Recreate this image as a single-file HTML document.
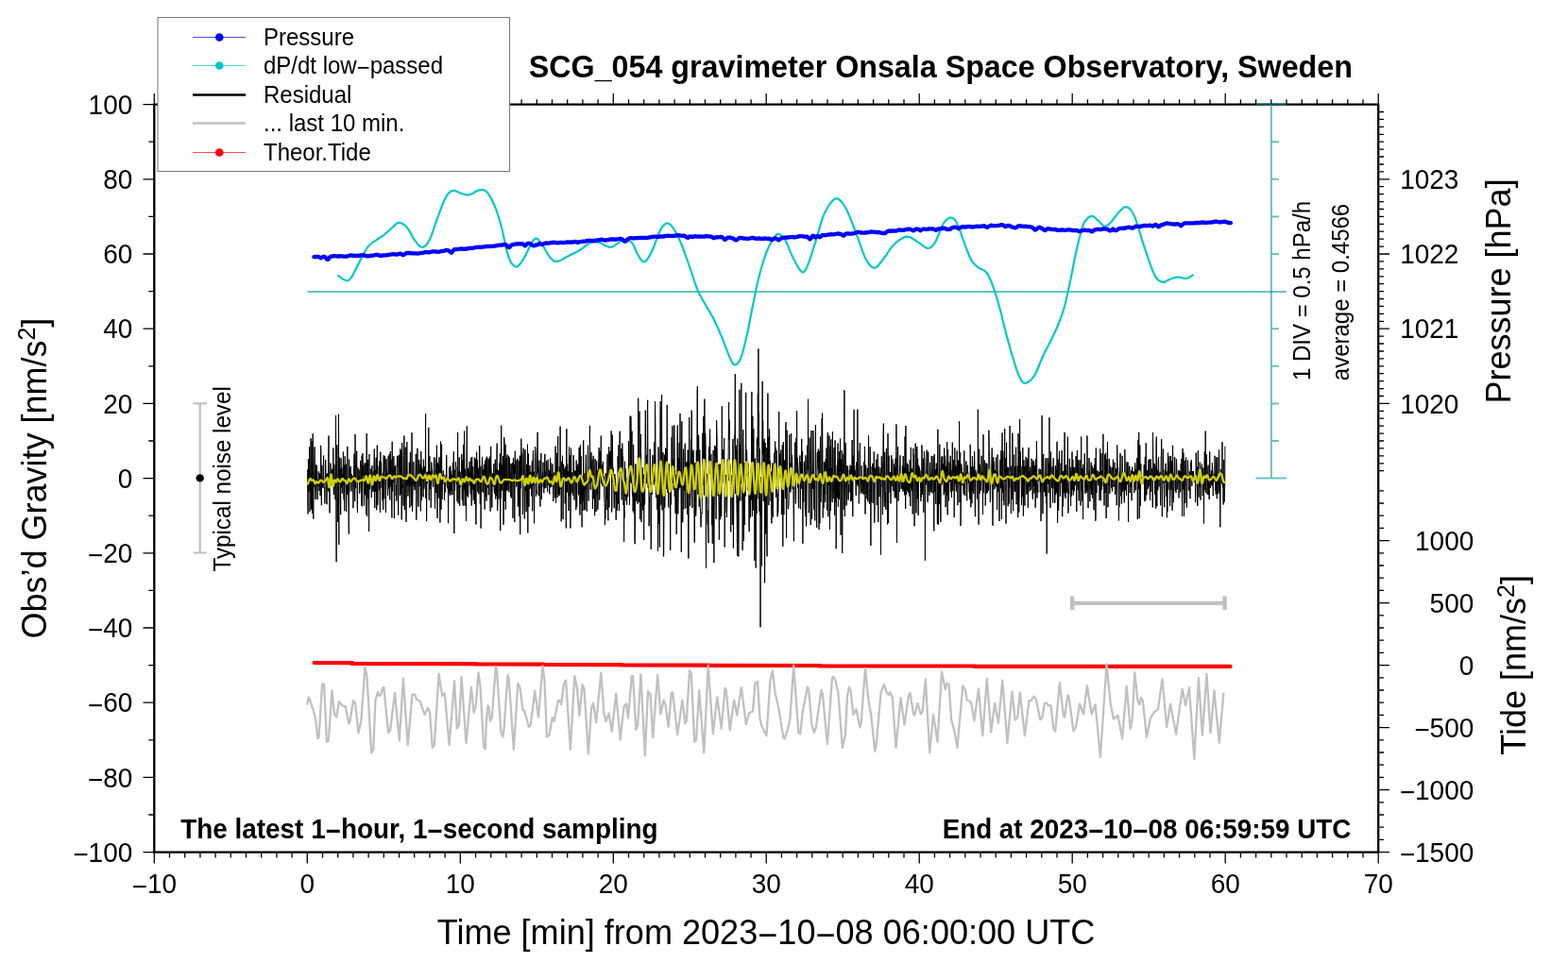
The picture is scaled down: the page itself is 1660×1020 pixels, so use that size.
<!DOCTYPE html>
<html><head><meta charset="utf-8"><title>SCG_054 gravimeter Onsala Space Observatory, Sweden</title><style>html,body{margin:0;padding:0;background:#fff;overflow:hidden}svg{display:block}</style></head><body><svg width="1660" height="1020" viewBox="0 0 1660 1020"><path d="M163.3,902.6L163.3,914.6 M163.3,110.6L163.3,99 M179.5,902.6L179.5,908.6 M179.5,110.6L179.5,105.2 M195.7,902.6L195.7,908.6 M195.7,110.6L195.7,105.2 M211.9,902.6L211.9,908.6 M211.9,110.6L211.9,105.2 M228.1,902.6L228.1,908.6 M228.1,110.6L228.1,105.2 M244.3,902.6L244.3,908.6 M244.3,110.6L244.3,105.2 M260.5,902.6L260.5,908.6 M260.5,110.6L260.5,105.2 M276.7,902.6L276.7,908.6 M276.7,110.6L276.7,105.2 M292.9,902.6L292.9,908.6 M292.9,110.6L292.9,105.2 M309.1,902.6L309.1,908.6 M309.1,110.6L309.1,105.2 M325.3,902.6L325.3,914.6 M325.3,110.6L325.3,99 M341.5,902.6L341.5,908.6 M341.5,110.6L341.5,105.2 M357.7,902.6L357.7,908.6 M357.7,110.6L357.7,105.2 M373.9,902.6L373.9,908.6 M373.9,110.6L373.9,105.2 M390.1,902.6L390.1,908.6 M390.1,110.6L390.1,105.2 M406.3,902.6L406.3,908.6 M406.3,110.6L406.3,105.2 M422.5,902.6L422.5,908.6 M422.5,110.6L422.5,105.2 M438.7,902.6L438.7,908.6 M438.7,110.6L438.7,105.2 M454.9,902.6L454.9,908.6 M454.9,110.6L454.9,105.2 M471.1,902.6L471.1,908.6 M471.1,110.6L471.1,105.2 M487.3,902.6L487.3,914.6 M487.3,110.6L487.3,99 M503.5,902.6L503.5,908.6 M503.5,110.6L503.5,105.2 M519.7,902.6L519.7,908.6 M519.7,110.6L519.7,105.2 M535.9,902.6L535.9,908.6 M535.9,110.6L535.9,105.2 M552.1,902.6L552.1,908.6 M552.1,110.6L552.1,105.2 M568.3,902.6L568.3,908.6 M568.3,110.6L568.3,105.2 M584.5,902.6L584.5,908.6 M584.5,110.6L584.5,105.2 M600.7,902.6L600.7,908.6 M600.7,110.6L600.7,105.2 M616.9,902.6L616.9,908.6 M616.9,110.6L616.9,105.2 M633.1,902.6L633.1,908.6 M633.1,110.6L633.1,105.2 M649.3,902.6L649.3,914.6 M649.3,110.6L649.3,99 M665.5,902.6L665.5,908.6 M665.5,110.6L665.5,105.2 M681.7,902.6L681.7,908.6 M681.7,110.6L681.7,105.2 M697.9,902.6L697.9,908.6 M697.9,110.6L697.9,105.2 M714.1,902.6L714.1,908.6 M714.1,110.6L714.1,105.2 M730.3,902.6L730.3,908.6 M730.3,110.6L730.3,105.2 M746.5,902.6L746.5,908.6 M746.5,110.6L746.5,105.2 M762.7,902.6L762.7,908.6 M762.7,110.6L762.7,105.2 M778.9,902.6L778.9,908.6 M778.9,110.6L778.9,105.2 M795.1,902.6L795.1,908.6 M795.1,110.6L795.1,105.2 M811.2,902.6L811.2,914.6 M811.2,110.6L811.2,99 M827.4,902.6L827.4,908.6 M827.4,110.6L827.4,105.2 M843.6,902.6L843.6,908.6 M843.6,110.6L843.6,105.2 M859.8,902.6L859.8,908.6 M859.8,110.6L859.8,105.2 M876,902.6L876,908.6 M876,110.6L876,105.2 M892.2,902.6L892.2,908.6 M892.2,110.6L892.2,105.2 M908.4,902.6L908.4,908.6 M908.4,110.6L908.4,105.2 M924.6,902.6L924.6,908.6 M924.6,110.6L924.6,105.2 M940.8,902.6L940.8,908.6 M940.8,110.6L940.8,105.2 M957,902.6L957,908.6 M957,110.6L957,105.2 M973.2,902.6L973.2,914.6 M973.2,110.6L973.2,99 M989.4,902.6L989.4,908.6 M989.4,110.6L989.4,105.2 M1005.6,902.6L1005.6,908.6 M1005.6,110.6L1005.6,105.2 M1021.8,902.6L1021.8,908.6 M1021.8,110.6L1021.8,105.2 M1038,902.6L1038,908.6 M1038,110.6L1038,105.2 M1054.2,902.6L1054.2,908.6 M1054.2,110.6L1054.2,105.2 M1070.4,902.6L1070.4,908.6 M1070.4,110.6L1070.4,105.2 M1086.6,902.6L1086.6,908.6 M1086.6,110.6L1086.6,105.2 M1102.8,902.6L1102.8,908.6 M1102.8,110.6L1102.8,105.2 M1119,902.6L1119,908.6 M1119,110.6L1119,105.2 M1135.2,902.6L1135.2,914.6 M1135.2,110.6L1135.2,99 M1151.4,902.6L1151.4,908.6 M1151.4,110.6L1151.4,105.2 M1167.6,902.6L1167.6,908.6 M1167.6,110.6L1167.6,105.2 M1183.8,902.6L1183.8,908.6 M1183.8,110.6L1183.8,105.2 M1200,902.6L1200,908.6 M1200,110.6L1200,105.2 M1216.2,902.6L1216.2,908.6 M1216.2,110.6L1216.2,105.2 M1232.4,902.6L1232.4,908.6 M1232.4,110.6L1232.4,105.2 M1248.6,902.6L1248.6,908.6 M1248.6,110.6L1248.6,105.2 M1264.8,902.6L1264.8,908.6 M1264.8,110.6L1264.8,105.2 M1281,902.6L1281,908.6 M1281,110.6L1281,105.2 M1297.2,902.6L1297.2,914.6 M1297.2,110.6L1297.2,99 M1313.4,902.6L1313.4,908.6 M1313.4,110.6L1313.4,105.2 M1329.6,902.6L1329.6,908.6 M1329.6,110.6L1329.6,105.2 M1345.8,902.6L1345.8,908.6 M1345.8,110.6L1345.8,105.2 M1362,902.6L1362,908.6 M1362,110.6L1362,105.2 M1378.2,902.6L1378.2,908.6 M1378.2,110.6L1378.2,105.2 M1394.4,902.6L1394.4,908.6 M1394.4,110.6L1394.4,105.2 M1410.6,902.6L1410.6,908.6 M1410.6,110.6L1410.6,105.2 M1426.8,902.6L1426.8,908.6 M1426.8,110.6L1426.8,105.2 M1443,902.6L1443,908.6 M1443,110.6L1443,105.2 M1459.2,902.6L1459.2,914.6 M1459.2,110.6L1459.2,99 M151.5,902.6L163.3,902.6 M157.3,863L163.3,863 M151.5,823.4L163.3,823.4 M157.3,783.8L163.3,783.8 M151.5,744.2L163.3,744.2 M157.3,704.6L163.3,704.6 M151.5,665L163.3,665 M157.3,625.4L163.3,625.4 M151.5,585.8L163.3,585.8 M157.3,546.2L163.3,546.2 M151.5,506.6L163.3,506.6 M157.3,467L163.3,467 M151.5,427.4L163.3,427.4 M157.3,387.8L163.3,387.8 M151.5,348.2L163.3,348.2 M157.3,308.6L163.3,308.6 M151.5,269L163.3,269 M157.3,229.4L163.3,229.4 M151.5,189.8L163.3,189.8 M157.3,150.2L163.3,150.2 M151.5,110.6L163.3,110.6 M1459.2,498.7L1465,498.7 M1459.2,490.8L1465,490.8 M1459.2,482.8L1465,482.8 M1459.2,474.9L1465,474.9 M1459.2,467L1465,467 M1459.2,459.1L1465,459.1 M1459.2,451.2L1465,451.2 M1459.2,443.2L1465,443.2 M1459.2,435.3L1465,435.3 M1459.2,427.4L1471,427.4 M1459.2,419.5L1465,419.5 M1459.2,411.6L1465,411.6 M1459.2,403.6L1465,403.6 M1459.2,395.7L1465,395.7 M1459.2,387.8L1465,387.8 M1459.2,379.9L1465,379.9 M1459.2,372L1465,372 M1459.2,364L1465,364 M1459.2,356.1L1465,356.1 M1459.2,348.2L1471,348.2 M1459.2,340.3L1465,340.3 M1459.2,332.4L1465,332.4 M1459.2,324.4L1465,324.4 M1459.2,316.5L1465,316.5 M1459.2,308.6L1465,308.6 M1459.2,300.7L1465,300.7 M1459.2,292.8L1465,292.8 M1459.2,284.8L1465,284.8 M1459.2,276.9L1465,276.9 M1459.2,269L1471,269 M1459.2,261.1L1465,261.1 M1459.2,253.2L1465,253.2 M1459.2,245.2L1465,245.2 M1459.2,237.3L1465,237.3 M1459.2,229.4L1465,229.4 M1459.2,221.5L1465,221.5 M1459.2,213.6L1465,213.6 M1459.2,205.6L1465,205.6 M1459.2,197.7L1465,197.7 M1459.2,189.8L1471,189.8 M1459.2,181.9L1465,181.9 M1459.2,174L1465,174 M1459.2,166L1465,166 M1459.2,158.1L1465,158.1 M1459.2,150.2L1465,150.2 M1459.2,142.3L1465,142.3 M1459.2,134.4L1465,134.4 M1459.2,126.4L1465,126.4 M1459.2,118.5L1465,118.5 M1459.2,902.6L1471,902.6 M1459.2,889.4L1465,889.4 M1459.2,876.2L1465,876.2 M1459.2,863L1465,863 M1459.2,849.8L1465,849.8 M1459.2,836.6L1471,836.6 M1459.2,823.4L1465,823.4 M1459.2,810.2L1465,810.2 M1459.2,797L1465,797 M1459.2,783.8L1465,783.8 M1459.2,770.6L1471,770.6 M1459.2,757.4L1465,757.4 M1459.2,744.2L1465,744.2 M1459.2,731L1465,731 M1459.2,717.8L1465,717.8 M1459.2,704.6L1471,704.6 M1459.2,691.4L1465,691.4 M1459.2,678.2L1465,678.2 M1459.2,665L1465,665 M1459.2,651.8L1465,651.8 M1459.2,638.6L1471,638.6 M1459.2,625.4L1465,625.4 M1459.2,612.2L1465,612.2 M1459.2,599L1465,599 M1459.2,585.8L1465,585.8 M1459.2,572.6L1471,572.6 M1459.2,559.4L1465,559.4 M1459.2,546.2L1465,546.2 M1459.2,533L1465,533 M1459.2,519.8L1465,519.8" stroke="#000" stroke-width="1.3" fill="none"/>
<path d="M325.3,309H1362" stroke="#009696" stroke-opacity="0.585" stroke-width="2" fill="none"/>
<path d="M325.3,497.4 325.6,500.5 325.8,535 326.1,544.4 326.4,486.2 326.6,492 326.9,520.9 327.2,520.6 327.4,496.1 327.7,473.4 328,541.9 328.3,522.9 328.5,512.7 328.8,490 329.1,464.3 329.3,497.6 329.6,539.6 329.9,524.1 330.1,467.7 330.4,517.5 330.7,543.8 331,485.5 331.2,459.3 331.5,518.9 331.8,549.7 332,510.8 332.3,515.8 332.6,515.5 332.8,489 333.1,473.4 333.4,496.3 333.7,519 333.9,528.9 334.2,524.2 334.5,514.1 334.7,492.3 335,500.7 335.3,513.4 335.5,493.3 335.8,513.6 336.1,529.1 336.4,508 336.6,508.3 336.9,514.9 337.2,499.9 337.4,499.3 337.7,505 338,520 338.2,516.1 338.5,501.6 338.8,504.8 339.1,525.1 339.3,513.7 339.6,471.8 339.9,478.3 340.1,523.4 340.4,535.3 340.7,494 340.9,492.9 341.2,508.7 341.5,515.3 341.8,510.4 342,516.8 342.3,494.6 342.6,482.6 342.8,502.9 343.1,515 343.4,517.6 343.6,516.3 343.9,533.4 344.2,509.5 344.5,504.4 344.7,487 345,504.5 345.3,508.1 345.5,502.5 345.8,530.8 346.1,534.2 346.3,513.7 346.6,501.3 346.9,505.4 347.2,514.3 347.4,520.3 347.7,486.1 348,461.5 348.2,492.5 348.5,520.1 348.8,523.8 349,543.4 349.3,502.4 349.6,510.9 349.9,490.6 350.1,493.1 350.4,496.5 350.7,505.7 350.9,511 351.2,514.3 351.5,507.4 351.7,497.7 352,496.7 352.3,515.7 352.6,507.2 352.8,474.5 353.1,516 353.4,524.1 353.6,499.2 353.9,491.8 354.2,503.2 354.4,516.5 354.7,508.8 355,529.2 355.3,495 355.5,439.9 355.8,525.4 356.1,595.2 356.3,497.3 356.6,484.1 356.9,471.2 357.1,495.3 357.4,524 357.7,553 358,518.4 358.2,491.6 358.5,438.8 358.8,576.9 359,486.3 359.3,484.6 359.6,503.8 359.8,511.8 360.1,496.8 360.4,529.1 360.7,545.2 360.9,485.2 361.2,486 361.5,516.5 361.7,497.8 362,495.3 362.3,522.5 362.5,515.3 362.8,502.1 363.1,513.3 363.4,478.5 363.6,493.1 363.9,525.6 364.2,529.6 364.4,492.6 364.7,541.2 365,511.5 365.2,483.2 365.5,498.1 365.8,513 366.1,491.6 366.3,519.6 366.6,542.2 366.9,518.8 367.1,512.8 367.4,523.2 367.7,473.7 367.9,472.8 368.2,524.2 368.5,507.7 368.8,517.8 369,537.3 369.3,565.7 369.6,486.6 369.8,521.2 370.1,505.3 370.4,496.1 370.6,506 370.9,498 371.2,493.8 371.5,504.6 371.7,513.3 372,520.4 372.3,510.7 372.5,502.3 372.8,505.6 373.1,508.3 373.3,506.6 373.6,504.3 373.9,538.1 374.2,519.7 374.4,512.3 374.7,492.4 375,480.6 375.2,492.6 375.5,531 375.8,530.2 376,460 376.3,497.4 376.6,517.2 376.9,503.2 377.1,492.5 377.4,495.7 377.7,477.7 377.9,503.1 378.2,536.2 378.5,543.1 378.7,497.5 379,495.3 379.3,504.6 379.6,506.9 379.8,508.8 380.1,497.4 380.4,506.3 380.6,522.7 380.9,520.7 381.2,514.1 381.4,495.5 381.7,487.9 382,492.3 382.3,493.5 382.5,523.3 382.8,535.7 383.1,482.6 383.3,515.3 383.6,536.3 383.9,480.2 384.1,493.4 384.4,503.6 384.7,498.5 385,493.1 385.2,516.2 385.5,535.5 385.8,511 386,490.6 386.3,496.4 386.6,524.2 386.8,519 387.1,490.2 387.4,520.9 387.7,544.7 387.9,509 388.2,459.1 388.5,508 388.7,546.9 389,511.2 389.3,486.9 389.5,494.5 389.8,528.2 390.1,522.8 390.4,500.7 390.6,562.9 390.9,481.1 391.2,509.8 391.4,518.2 391.7,516.7 392,502.9 392.2,504.1 392.5,503.3 392.8,496.6 393.1,503.3 393.3,527 393.6,500.4 393.9,493.2 394.1,502.3 394.4,510.3 394.7,516.5 394.9,520.9 395.2,499.5 395.5,502.2 395.8,520.4 396,489.5 396.3,475.5 396.6,527.9 396.8,538 397.1,497.7 397.4,501.4 397.6,520.6 397.9,494.5 398.2,484.7 398.5,510.5 398.7,540.3 399,518.3 399.3,471.5 399.5,495.9 399.8,535.1 400.1,523.6 400.3,502.5 400.6,507.1 400.9,512.1 401.2,493.8 401.4,518.8 401.7,488.4 402,496.1 402.2,537.7 402.5,542.7 402.8,478.7 403,494.5 403.3,506.1 403.6,489.4 403.9,507.8 404.1,516.9 404.4,503.2 404.7,505.3 404.9,530.3 405.2,501.1 405.5,501 405.7,539.8 406,485 406.3,482.2 406.6,528.3 406.8,528.2 407.1,499.5 407.4,492.5 407.6,483.4 407.9,487.1 408.2,535 408.4,542.9 408.7,495.8 409,486.3 409.3,495.3 409.5,500 409.8,507.4 410.1,501.2 410.3,516.1 410.6,525 410.9,518 411.1,483.3 411.4,499.9 411.7,517.4 412,505.7 412.2,480.9 412.5,517.1 412.8,529.5 413,497.9 413.3,478 413.6,509.4 413.8,515.6 414.1,486.9 414.4,500.8 414.7,538.7 414.9,548.4 415.2,467.8 415.5,504.3 415.7,520.4 416,498.8 416.3,511.1 416.5,510.8 416.8,483.3 417.1,492.6 417.4,549.1 417.6,537.6 417.9,494.1 418.2,498 418.4,505.4 418.7,493 419,507.7 419.2,525 419.5,513.2 419.8,530.6 420.1,518 420.3,493.4 420.6,483.3 420.9,494.3 421.1,482.7 421.4,523 421.7,545.6 421.9,505.9 422.2,502 422.5,494.8 422.7,481.8 423,488.2 423.3,524.9 423.6,500.5 423.8,475.3 424.1,523.4 424.4,518 424.6,477.3 424.9,493.7 425.2,550.4 425.4,525.3 425.7,468.9 426,482.6 426.3,516.4 426.5,514 426.8,513 427.1,535.7 427.3,508.9 427.6,482.7 427.9,461.5 428.1,519.4 428.4,540 428.7,523.8 429,489.2 429.2,473.7 429.5,511.9 429.8,534.1 430,552.9 430.3,522.9 430.6,488.8 430.8,468.1 431.1,492.1 431.4,514.5 431.7,507.6 431.9,525.6 432.2,521.4 432.5,501.8 432.7,503.4 433,515.4 433.3,489.7 433.5,495.3 433.8,537.8 434.1,513.7 434.4,478.8 434.6,514.3 434.9,506.8 435.2,513.9 435.4,536 435.7,516.5 436,458.3 436.2,472.1 436.5,541.8 436.8,532.1 437.1,510.5 437.3,512.5 437.6,508.6 437.9,489.2 438.1,515.3 438.4,507.7 438.7,504.5 438.9,519.3 439.2,517.1 439.5,510.3 439.8,511.6 440,498.1 440.3,480.8 440.6,506 440.8,550.7 441.1,524.3 441.4,486.6 441.6,484.6 441.9,474.8 442.2,484.1 442.5,503.2 442.7,533.1 443,536.6 443.3,487.5 443.5,491.9 443.8,487.3 444.1,510.9 444.3,514.8 444.6,496.1 444.9,491.8 445.2,533.2 445.4,541.3 445.7,478 446,487.1 446.2,530.1 446.5,509.1 446.8,494.5 447,508.6 447.3,506.2 447.6,497.6 447.9,520.5 448.1,526.4 448.4,486.6 448.7,507.9 448.9,517.7 449.2,514.1 449.5,494 449.7,500.9 450,497 450.3,495.8 450.6,438.4 450.8,527.8 451.1,503.4 451.4,503.3 451.6,552.1 451.9,499.9 452.2,510.8 452.4,512 452.7,509.9 453,499.6 453.3,502.7 453.5,496.7 453.8,452.8 454.1,511.2 454.3,529.8 454.6,490.6 454.9,483.2 455.1,504.4 455.4,518.2 455.7,499.1 456,513.9 456.2,537.7 456.5,518.3 456.8,489.5 457,491.5 457.3,507.6 457.6,497.7 457.8,506.5 458.1,511.6 458.4,516 458.7,515.7 458.9,511.4 459.2,505.6 459.5,484.3 459.7,499 460,498.4 460.3,525.5 460.5,538.8 460.8,525.7 461.1,485.3 461.4,486.6 461.6,520.4 461.9,522.1 462.2,485 462.4,471.6 462.7,509.9 463,548.9 463.2,522.1 463.5,490.4 463.8,516 464.1,527.6 464.3,515.2 464.6,490.7 464.9,484.6 465.1,484.2 465.4,491.8 465.7,538.7 465.9,553.5 466.2,510.1 466.5,467.6 466.8,505.2 467,539.7 467.3,490.5 467.6,470.6 467.8,515 468.1,528.8 468.4,503.3 468.6,512.8 468.9,513 469.2,498.5 469.5,504.2 469.7,505.2 470,503.2 470.3,511.1 470.5,530.1 470.8,515.7 471.1,509.4 471.3,521.4 471.6,515.3 471.9,510.2 472.2,502.9 472.4,509.3 472.7,481.9 473,500.4 473.2,510.5 473.5,517.2 473.8,508.4 474,511.2 474.3,508.4 474.6,554.2 474.9,514.9 475.1,522.2 475.4,516 475.7,495.2 475.9,513.6 476.2,524.6 476.5,523.1 476.7,493.5 477,496.6 477.3,519.7 477.6,498.9 477.8,502.8 478.1,524.3 478.4,514.9 478.6,502.9 478.9,524 479.2,502.1 479.4,490 479.7,508.3 480,503 480.3,478.4 480.5,503.4 480.8,565 481.1,510.3 481.3,497.7 481.6,519.3 481.9,508.2 482.1,501.1 482.4,489 482.7,494.5 483,494.6 483.2,512.2 483.5,511.5 483.8,514.4 484,531.1 484.3,503.3 484.6,457.9 484.8,499.7 485.1,533.3 485.4,511.1 485.7,499.5 485.9,501.8 486.2,484.3 486.5,507.1 486.7,535.8 487,499.7 487.3,516 487.5,507.4 487.8,515.2 488.1,502.4 488.4,503 488.6,481.6 488.9,480.9 489.2,525.8 489.4,529.7 489.7,487.1 490,518 490.2,535.4 490.5,500.3 490.8,470.8 491.1,506.4 491.3,519.1 491.6,456.5 491.9,508.9 492.1,535.7 492.4,506.9 492.7,496.7 492.9,522.2 493.2,513.2 493.5,552.1 493.8,508.8 494,484 494.3,451.3 494.6,519.2 494.8,525.3 495.1,498.8 495.4,495.8 495.6,526.5 495.9,510.5 496.2,496.5 496.5,508.4 496.7,503.8 497,488.7 497.3,514.6 497.5,512.7 497.8,499.5 498.1,519.6 498.3,523.5 498.6,484.9 498.9,497.6 499.2,535.6 499.4,516.4 499.7,484.1 500,519 500.2,509.9 500.5,494.6 500.8,494.1 501,520.1 501.3,530.1 501.6,505.3 501.9,504.1 502.1,500.7 502.4,484.6 502.7,534 502.9,518.5 503.2,487.1 503.5,485.8 503.7,546.5 504,555.5 504.3,497.5 504.6,478.6 504.8,488.5 505.1,507 505.4,487.4 505.6,513.6 505.9,521.2 506.2,496.1 506.4,495.8 506.7,522.5 507,523.3 507.3,513.7 507.5,472.7 507.8,472.1 508.1,512.3 508.3,533.7 508.6,507.8 508.9,493.8 509.1,559.6 509.4,505.2 509.7,513.7 510,520.9 510.2,494.8 510.5,483.8 510.8,502.8 511,500.9 511.3,497.1 511.6,521.7 511.8,516 512.1,501.1 512.4,491.8 512.7,492.8 512.9,518.6 513.2,539.6 513.5,494.4 513.7,487.8 514,526.7 514.3,516 514.5,485.5 514.8,527.4 515.1,530.5 515.4,483.6 515.6,506.5 515.9,513.4 516.2,511.2 516.4,516.9 516.7,503.6 517,485.4 517.2,524.3 517.5,514.5 517.8,487.2 518.1,501.3 518.3,492.5 518.6,483.6 518.9,515 519.1,541.6 519.4,501.9 519.7,472.9 519.9,494 520.2,499.4 520.5,511.7 520.8,537.6 521,522.9 521.3,511.4 521.6,501 521.8,502.8 522.1,513.3 522.4,515.3 522.6,496.2 522.9,491.1 523.2,518.8 523.5,522.9 523.7,509.2 524,499.1 524.3,486.7 524.5,521 524.8,528.7 525.1,496.7 525.3,525 525.6,525.4 525.9,481.8 526.2,469.6 526.4,502.6 526.7,540.9 527,531.2 527.2,510.3 527.5,498.1 527.8,501 528,528.7 528.3,507 528.6,490.6 528.9,500.6 529.1,510.4 529.4,480.5 529.7,562.2 529.9,531.2 530.2,505 530.5,527.3 530.7,450.7 531,501.7 531.3,492.6 531.6,509 531.8,519.6 532.1,501.7 532.4,484.9 532.6,482.9 532.9,555.8 533.2,553.7 533.4,516.1 533.7,463.2 534,467 534.3,500.9 534.5,530.8 534.8,506.5 535.1,470.7 535.3,539.6 535.6,524.9 535.9,485.2 536.1,496 536.4,519.8 536.7,487.5 537,481.5 537.2,504.9 537.5,506.2 537.8,519.4 538,515.5 538.3,482.9 538.6,502.9 538.8,521.3 539.1,493.2 539.4,484.6 539.7,510.4 539.9,501.2 540.2,512.9 540.5,526.1 540.7,509.8 541,491 541.3,527.5 541.5,516.3 541.8,492.5 542.1,495.6 542.4,489.9 542.6,490.4 542.9,548.8 543.2,534.6 543.4,485.4 543.7,484.9 544,502.7 544.2,492 544.5,501.7 544.8,553.1 545.1,505.8 545.3,477.6 545.6,501.8 545.9,498 546.1,487.4 546.4,509.2 546.7,515.5 546.9,514.7 547.2,512.6 547.5,501.7 547.8,485.8 548,512 548.3,536.5 548.6,525.5 548.8,504.2 549.1,488 549.4,509 549.6,546.9 549.9,511.9 550.2,482.6 550.5,482.8 550.7,566.1 551,497.9 551.3,501.6 551.5,517.2 551.8,464.7 552.1,503.6 552.3,508.6 552.6,479.3 552.9,487 553.1,500.4 553.4,544.9 553.7,539.1 554,501.3 554.2,474.7 554.5,503.9 554.8,504.6 555,511.3 555.3,549.5 555.6,539 555.8,478.2 556.1,476.3 556.4,519.6 556.7,508.2 556.9,516.3 557.2,541.9 557.5,503.6 557.7,491.9 558,533.7 558.3,524.4 558.5,470.7 558.8,564.4 559.1,518.8 559.4,480.6 559.6,495.1 559.9,536.8 560.2,518.7 560.4,504.2 560.7,499.9 561,492.9 561.2,517.6 561.5,506.1 561.8,500.6 562.1,499.6 562.3,504.7 562.6,517.7 562.9,525.6 563.1,492.1 563.4,488 563.7,541.4 563.9,532.3 564.2,485.3 564.5,477 564.8,514.4 565,499.9 565.3,513.6 565.6,554.3 565.8,526.8 566.1,509.4 566.4,483.6 566.6,473.3 566.9,480.4 567.2,503.9 567.5,525.9 567.7,518.5 568,523.3 568.3,483.2 568.5,474.4 568.8,502.2 569.1,457.8 569.3,500.2 569.6,499.1 569.9,495.1 570.2,525 570.4,520.6 570.7,502 571,487.6 571.2,497.5 571.5,522.3 571.8,534.2 572,536.5 572.3,513.3 572.6,486.8 572.9,480 573.1,501.2 573.4,529 573.7,513.9 573.9,515.2 574.2,503.1 574.5,500.5 574.7,509 575,489.6 575.3,515.5 575.6,517.6 575.8,522.2 576.1,510.4 576.4,517.3 576.6,488 576.9,480.9 577.2,504.8 577.4,499.7 577.7,517 578,515.2 578.3,500.9 578.5,487.9 578.8,492.7 579.1,508.8 579.3,515.3 579.6,521.2 579.9,494.8 580.1,486.8 580.4,503.3 580.7,511.6 581,514 581.2,497.9 581.5,517.3 581.8,523.3 582,505.7 582.3,504.1 582.6,485.3 582.8,516.3 583.1,490.2 583.4,516 583.7,513.4 583.9,515.5 584.2,501.9 584.5,503.9 584.7,506.4 585,491.4 585.3,510.7 585.5,512.4 585.8,531 586.1,505.4 586.4,500.5 586.6,500.9 586.9,517.3 587.2,519 587.4,527.3 587.7,518.6 588,473.6 588.2,472.5 588.5,532.9 588.8,526.6 589.1,509.1 589.3,497.9 589.6,479.8 589.9,501.8 590.1,526.9 590.4,503.1 590.7,462.2 590.9,506.3 591.2,523.3 591.5,504.9 591.8,511.4 592,525.3 592.3,494.1 592.6,523.6 592.8,505.8 593.1,451.6 593.4,499.5 593.6,517.7 593.9,499.2 594.2,552.3 594.5,527.2 594.7,488.9 595,492.4 595.3,496.4 595.5,482.7 595.8,514.7 596.1,550 596.3,520 596.6,491.7 596.9,505.1 597.2,502.7 597.4,496.2 597.7,506.4 598,499.3 598.2,533.3 598.5,519.4 598.8,493.9 599,518 599.3,559.4 599.6,483.8 599.9,454.3 600.1,504.3 600.4,521.5 600.7,491.5 600.9,508.1 601.2,506.8 601.5,499.2 601.7,512.2 602,541.1 602.3,488.4 602.6,473.5 602.8,506.6 603.1,525.5 603.4,482.3 603.6,508.1 603.9,559.5 604.2,529.2 604.4,474.7 604.7,478.7 605,522.6 605.3,513.2 605.5,508.1 605.8,500.2 606.1,512 606.3,516.9 606.6,524.9 606.9,508.4 607.1,482.2 607.4,493.8 607.7,512.1 608,529.7 608.2,521.3 608.5,500.4 608.8,498.7 609,505.7 609.3,498.6 609.6,511.8 609.8,540.1 610.1,487.6 610.4,499.4 610.7,537.1 610.9,493.4 611.2,494.1 611.5,505.7 611.7,499.8 612,491.5 612.3,521.5 612.5,524.3 612.8,488.6 613.1,473.9 613.4,478.5 613.6,503.8 613.9,545.5 614.2,481.8 614.4,471.5 614.7,533.8 615,510.3 615.2,483.2 615.5,528.7 615.8,515.4 616.1,558.3 616.3,510.6 616.6,541 616.9,503.9 617.1,530.6 617.4,524.5 617.7,466.4 617.9,525.2 618.2,540.5 618.5,507.8 618.8,501.1 619,540.1 619.3,520.9 619.6,509 619.8,518.5 620.1,493.6 620.4,481.7 620.6,513.4 620.9,538.6 621.2,541.7 621.5,505.7 621.7,509.3 622,506.2 622.3,485.2 622.5,471.7 622.8,508.3 623.1,530.5 623.3,499.2 623.6,499.1 623.9,512.1 624.2,491.6 624.4,450.7 624.7,489.8 625,507.6 625.2,518.7 625.5,499.7 625.8,487.2 626,479.1 626.3,508.9 626.6,510.5 626.9,486.8 627.1,509.7 627.4,539 627.7,517.1 627.9,492.5 628.2,482.8 628.5,512.2 628.7,528.3 629,509.9 629.3,513.5 629.6,546.1 629.8,491.5 630.1,486.1 630.4,527.9 630.6,533.6 630.9,542.1 631.2,541.7 631.4,495.9 631.7,488 632,504.6 632.3,524.5 632.5,498 632.8,539.8 633.1,533 633.3,507.2 633.6,489.4 633.9,485.9 634.1,474.1 634.4,488.5 634.7,529.5 635,508.5 635.2,478.4 635.5,497.8 635.8,497.2 636,476.9 636.3,461.5 636.6,512.3 636.8,499.5 637.1,492.4 637.4,500.9 637.7,515 637.9,514.5 638.2,488.9 638.5,490 638.7,514 639,512.7 639.3,504.5 639.5,512.1 639.8,528.5 640.1,532.4 640.4,556.1 640.6,537.2 640.9,549.2 641.2,501.2 641.4,507.3 641.7,522.6 642,540.1 642.2,525 642.5,528.9 642.8,492.2 643.1,481.1 643.3,509.3 643.6,544.6 643.9,551.3 644.1,503.3 644.4,479 644.7,473.4 644.9,537.4 645.2,504 645.5,478 645.8,484.2 646,493.4 646.3,482.6 646.6,477.1 646.8,500.5 647.1,456.4 647.4,483.2 647.6,542.5 647.9,537.1 648.2,460.5 648.5,471.7 648.7,490.7 649,511 649.3,496.4 649.5,504.5 649.8,518.4 650.1,536.3 650.3,538.2 650.6,521.4 650.9,502 651.2,523.8 651.4,506.1 651.7,510.7 652,539.4 652.2,550.8 652.5,513.3 652.8,529.5 653,520.6 653.3,529.8 653.6,540.7 653.9,519.3 654.1,483.2 654.4,508.9 654.7,533.5 654.9,471.4 655.2,487.2 655.5,540.9 655.7,515.3 656,458.1 656.3,456.7 656.6,475.7 656.8,481.9 657.1,501.5 657.4,487.5 657.6,475 657.9,487.4 658.2,529.4 658.4,499.9 658.7,469.5 659,473.7 659.3,494.1 659.5,483.6 659.8,502.1 660.1,535.1 660.3,508.6 660.6,574 660.9,541 661.1,548.3 661.4,488.7 661.7,515.6 662,525.5 662.2,516.8 662.5,496.7 662.8,530.3 663,519.4 663.3,519.3 663.6,534.7 663.8,522.1 664.1,506.1 664.4,516.3 664.7,526.2 664.9,514.7 665.2,505.7 665.5,485.5 665.7,467.3 666,500.3 666.3,519 666.5,534.7 666.8,503.3 667.1,440.5 667.4,471.9 667.6,510.9 667.9,441.1 668.2,463.5 668.4,512.1 668.7,492.5 669,456.7 669.2,508.8 669.5,525.6 669.8,511.6 670.1,541.4 670.3,532.4 670.6,470.9 670.9,497.6 671.1,543.7 671.4,537.6 671.7,512.1 671.9,571.6 672.2,576.2 672.5,558.3 672.8,491.4 673,491.5 673.3,528.9 673.6,531.1 673.8,504.5 674.1,520.4 674.4,529.4 674.6,512.5 674.9,530.8 675.2,533.7 675.5,469.7 675.7,421.7 676,462 676.3,504.7 676.5,531.6 676.8,450.6 677.1,435.7 677.3,489.9 677.6,550.1 677.9,527.3 678.2,483.4 678.4,459.9 678.7,488.1 679,552.9 679.2,547.8 679.5,521.3 679.8,519.4 680,537.1 680.3,495.2 680.6,527.7 680.9,540.5 681.1,502.5 681.4,528.3 681.7,571.9 681.9,540.6 682.2,504.2 682.5,534.4 682.7,532.3 683,478.3 683.3,434.7 683.5,467.9 683.8,476.9 684.1,508.7 684.4,512.2 684.6,481.9 684.9,494.5 685.2,504 685.4,433.2 685.7,423.8 686,506.8 686.2,516.5 686.5,497.3 686.8,498.4 687.1,557.3 687.3,541.4 687.6,525.6 687.9,524.1 688.1,475.7 688.4,480.3 688.7,501.5 688.9,556.8 689.2,581.8 689.5,574 689.8,510.1 690,516.1 690.3,523.7 690.6,513.1 690.8,482.1 691.1,482.1 691.4,510.5 691.6,497.2 691.9,491.4 692.2,513.4 692.5,494.9 692.7,468.3 693,510.3 693.3,492.8 693.5,425.1 693.8,443.8 694.1,499.2 694.3,522.8 694.6,527.1 694.9,511.5 695.2,512.4 695.4,510.6 695.7,539.6 696,539.4 696.2,517.4 696.5,583.8 696.8,571.9 697,473.5 697.3,495.9 697.6,555.1 697.9,505.5 698.1,489.7 698.4,579.6 698.7,528.5 698.9,437.5 699.2,425.1 699.5,436.3 699.7,492.1 700,534.8 700.3,464.8 700.6,418 700.8,531.9 701.1,540.4 701.4,511.9 701.6,498.4 701.9,479.2 702.2,504.3 702.4,589.4 702.7,589.5 703,529.7 703.3,481.6 703.5,531.2 703.8,537.5 704.1,526.9 704.3,511.1 704.6,474.6 704.9,506.1 705.1,475.4 705.4,503.6 705.7,518 706,472.2 706.2,428.9 706.5,474.7 706.8,521.7 707,506.1 707.3,498.6 707.6,532.1 707.8,537.4 708.1,504.9 708.4,491.2 708.7,505.5 708.9,517.6 709.2,519.8 709.5,549.1 709.7,582.8 710,508.6 710.3,507 710.5,534.3 710.8,514 711.1,463.2 711.4,506.8 711.6,502.4 711.9,451.1 712.2,486.1 712.4,511.4 712.7,508.7 713,486.7 713.2,518.8 713.5,504.8 713.8,450.3 714.1,480.9 714.3,526.1 714.6,498.2 714.9,524.1 715.1,543.6 715.4,519.2 715.7,544 715.9,502.7 716.2,565.9 716.5,532.2 716.8,525 717,474.4 717.3,450.5 717.6,500.7 717.8,544.4 718.1,528.3 718.4,485.1 718.6,518.9 718.9,491 719.2,468.8 719.5,516.5 719.7,495.4 720,438 720.3,498.5 720.5,516.2 720.8,497.8 721.1,538.1 721.3,584.8 721.6,466.8 721.9,446.3 722.2,534.6 722.4,547.3 722.7,553.3 723,549.3 723.2,488.1 723.5,475.7 723.8,539.5 724,524 724.3,497.7 724.6,519.5 724.9,482.2 725.1,471.4 725.4,469.7 725.7,516.5 725.9,538.5 726.2,489.9 726.5,496.1 726.7,495.6 727,496.4 727.3,488.8 727.6,529.7 727.8,544.9 728.1,476.6 728.4,479.9 728.6,556 728.9,591.5 729.2,529.8 729.4,503.5 729.7,442.2 730,478 730.3,514.3 730.5,536 730.8,534.4 731.1,519.8 731.3,502.5 731.6,465.8 731.9,486.2 732.1,434.6 732.4,439 732.7,522.6 733,537.9 733.2,478.9 733.5,510.7 733.8,512.9 734,476.6 734.3,489.8 734.6,511.6 734.8,517.3 735.1,573.9 735.4,574.6 735.7,490 735.9,497 736.2,543.9 736.5,496.8 736.7,546.5 737,537.5 737.3,477 737.5,507.1 737.8,500.7 738.1,413.7 738.4,409 738.6,494.4 738.9,523.6 739.2,507.7 739.4,460.6 739.7,462.3 740,495.5 740.2,536.8 740.5,518.3 740.8,476.5 741.1,526.6 741.3,539.7 741.6,539 741.9,556.7 742.1,558.3 742.4,547.9 742.7,545.6 742.9,543.1 743.2,543.8 743.5,514.5 743.8,460.3 744,458.6 744.3,495.3 744.6,513.8 744.8,441 745.1,498.8 745.4,524.4 745.6,453.2 745.9,422.6 746.2,452 746.5,513.4 746.7,458.9 747,472.9 747.3,574.5 747.5,601.7 747.8,524.3 748.1,501.7 748.3,519.6 748.6,526 748.9,534.5 749.2,555.5 749.4,541 749.7,564.7 750,575.1 750.2,499.6 750.5,473.4 750.8,475 751,501.6 751.3,460.9 751.6,454.5 751.9,476.3 752.1,495.1 752.4,499.4 752.7,481.2 752.9,481.2 753.2,500.2 753.5,541.9 753.7,556.2 754,546 754.3,575.8 754.6,503.6 754.8,513.3 755.1,477 755.4,508.1 755.6,564.2 755.9,596 756.2,539.5 756.4,509.7 756.7,472.2 757,482.2 757.3,474.3 757.5,472.8 757.8,501.8 758.1,549.7 758.3,525.6 758.6,445.2 758.9,458.4 759.1,462.5 759.4,490.3 759.7,512.6 760,514.9 760.2,525.4 760.5,512.8 760.8,492 761,530.8 761.3,571.7 761.6,562.8 761.8,511.5 762.1,491.4 762.4,545.8 762.7,550.2 762.9,492.7 763.2,498.8 763.5,519.3 763.7,547.1 764,506.3 764.3,430.3 764.5,461.8 764.8,496.5 765.1,498.9 765.4,481.4 765.6,476.1 765.9,493.3 766.2,511.3 766.4,479.6 766.7,464.2 767,523.7 767.2,579.5 767.5,527.9 767.8,542.6 768.1,522.9 768.3,502.9 768.6,517.1 768.9,528.4 769.1,520.2 769.4,547.9 769.7,536.6 769.9,500.4 770.2,486.5 770.5,505.8 770.8,493.4 771,509.1 771.3,455.7 771.6,426 771.8,465.7 772.1,444.7 772.4,501.9 772.6,490.9 772.9,498.5 773.2,493.4 773.5,542.6 773.7,563.5 774,503.1 774.3,506 774.5,512.8 774.8,521.1 775.1,545.5 775.3,555.8 775.6,511.8 775.9,465 776.2,505.9 776.4,580.5 776.7,547.4 777,480.1 777.2,468.4 777.5,461.4 777.8,462.8 778,449.8 778.3,396.1 778.6,523.1 778.9,475.7 779.1,471.8 779.4,511.4 779.7,476 779.9,533.9 780.2,548.6 780.5,589 780.7,464.7 781,578.5 781.3,576.4 781.6,526.7 781.8,589.6 782.1,543.3 782.4,481.8 782.6,466.1 782.9,412.7 783.2,497 783.4,530.5 783.7,479.9 784,470.6 784.3,512.4 784.5,458.6 784.8,405.8 785.1,468.1 785.3,530.3 785.6,506.6 785.9,507 786.1,582.8 786.4,553.2 786.7,455.2 787,484 787.2,571.5 787.5,572.9 787.8,490.2 788,527.4 788.3,555.9 788.6,516.6 788.8,504.2 789.1,525.7 789.4,466.4 789.7,415.8 789.9,478.2 790.2,494 790.5,476.5 790.7,479.4 791,503.8 791.3,498.7 791.5,519.3 791.8,490.5 792.1,506.7 792.4,498.9 792.6,504.7 792.9,553.3 793.2,563 793.4,535.6 793.7,513.3 794,517.2 794.2,511.4 794.5,548.2 794.8,521.6 795.1,495.9 795.3,529.9 795.6,451.8 795.9,414.9 796.1,481.1 796.4,547 796.7,447.4 796.9,440.9 797.2,540.8 797.5,527.3 797.8,454.1 798,487.7 798.3,486.4 798.6,507.7 798.8,593.8 799.1,584.5 799.4,485.5 799.6,536.7 799.9,566.5 800.2,601.6 800.5,514.4 800.7,531 801,543.8 801.3,466 801.5,463.7 801.8,528.4 802.1,501 802.3,417.5 802.6,463.3 802.9,369.4 803.2,471.2 803.4,437.1 803.7,529.9 804,541.9 804.2,475.3 804.5,545.3 804.8,529.8 805,664.3 805.3,532 805.6,540.7 805.9,505.1 806.1,556.8 806.4,599.4 806.7,501.8 806.9,456.5 807.2,403.9 807.5,480.6 807.7,445.4 808,497.4 808.3,531 808.6,467.9 808.8,485.9 809.1,464.7 809.4,507.5 809.6,617.3 809.9,489 810.2,469.1 810.4,539 810.7,565.5 811,564.1 811.2,474.3 811.5,508.8 811.8,570.1 812.1,589.4 812.3,520.6 812.6,473.6 812.9,416.5 813.1,502.5 813.4,462.8 813.7,483.9 813.9,535.1 814.2,516 814.5,454.4 814.8,461.5 815,513.7 815.3,488 815.6,507.3 815.8,499.5 816.1,530.7 816.4,499.6 816.6,539.6 816.9,554.4 817.2,536.8 817.5,524.6 817.7,490.5 818,538.5 818.3,547.6 818.5,497.6 818.8,490.7 819.1,493.1 819.3,501.9 819.6,485.5 819.9,479.6 820.2,504.9 820.4,471.7 820.7,467.5 821,479.2 821.2,474.7 821.5,526.3 821.8,527 822,521.7 822.3,477 822.6,504.5 822.9,518.1 823.1,547.3 823.4,522.7 823.7,543.6 823.9,538.2 824.2,519.2 824.5,495.6 824.7,435.9 825,506 825.3,480.7 825.6,496.4 825.8,496.2 826.1,505.1 826.4,503.2 826.6,481 826.9,476.5 827.2,500.2 827.4,545 827.7,515 828,493.6 828.3,471 828.5,535.6 828.8,578.8 829.1,531.6 829.3,468.2 829.6,532.4 829.9,545 830.1,487.1 830.4,500.6 830.7,515.5 831,488.2 831.2,492.1 831.5,527.7 831.8,453.2 832,447.1 832.3,521.7 832.6,569.8 832.8,514.4 833.1,455.7 833.4,465.3 833.7,514.5 833.9,530.5 834.2,539.2 834.5,538.8 834.7,536.8 835,536.6 835.3,520.4 835.5,480.1 835.8,460.3 836.1,520.8 836.4,513.6 836.6,490.7 836.9,521.4 837.2,513.8 837.4,468.3 837.7,459.2 838,508 838.2,510.3 838.5,481.9 838.8,492.5 839.1,518.1 839.3,515.3 839.6,507.8 839.9,522 840.1,542 840.4,573.3 840.7,525.5 840.9,520 841.2,504.5 841.5,468.7 841.8,483.6 842,526 842.3,533.5 842.6,530.1 842.8,464.1 843.1,469 843.4,493.2 843.6,435.3 843.9,503.9 844.2,484.8 844.5,501.9 844.7,516.6 845,511.5 845.3,534 845.5,538.2 845.8,500.1 846.1,495.9 846.3,491.7 846.6,487.2 846.9,482.6 847.2,536.5 847.4,539.3 847.7,489.3 848,490.8 848.2,517.9 848.5,471.7 848.8,464.9 849,506.9 849.3,511.3 849.6,477.9 849.9,575.8 850.1,509.3 850.4,512.6 850.7,531.8 850.9,526.3 851.2,491.1 851.5,488.8 851.7,499.6 852,491.5 852.3,539.2 852.6,546.8 852.8,482.3 853.1,486.4 853.4,510.4 853.6,557.4 853.9,537.8 854.2,507.5 854.4,491.5 854.7,471.8 855,476 855.3,498 855.5,422.7 855.8,500.1 856.1,505.8 856.3,543.2 856.6,525.4 856.9,475.6 857.1,463.6 857.4,476.9 857.7,491.9 858,528.8 858.2,556.1 858.5,509.1 858.8,464.5 859,456.1 859.3,516.7 859.6,549.6 859.8,519.1 860.1,500.4 860.4,517.9 860.7,484.5 860.9,456.1 861.2,472 861.5,528.4 861.7,539.7 862,526.4 862.3,509.3 862.5,520.4 862.8,551.4 863.1,501.6 863.4,450.2 863.6,481.4 863.9,506.2 864.2,503.7 864.4,542 864.7,558.9 865,522.7 865.2,480.2 865.5,478.7 865.8,488.7 866.1,496.6 866.3,475.6 866.6,481.5 866.9,549.8 867.1,560.8 867.4,477.6 867.7,486.4 867.9,554.4 868.2,486.9 868.5,462.5 868.8,483.9 869,531.8 869.3,516.1 869.6,510.4 869.8,514 870.1,443.1 870.4,510.6 870.6,437.5 870.9,484.3 871.2,548.4 871.5,524.9 871.7,505 872,538 872.3,489.3 872.5,489.9 872.8,523.8 873.1,506.3 873.3,489.7 873.6,532 873.9,521.2 874.2,486 874.4,499.5 874.7,507.3 875,474.6 875.2,490.6 875.5,540.3 875.8,537.5 876,469.1 876.3,458.1 876.6,511.9 876.9,547.2 877.1,496.1 877.4,499.2 877.7,513.9 877.9,461.4 878.2,500.7 878.5,560.7 878.7,501.3 879,472.7 879.3,540.8 879.6,524.3 879.8,465.4 880.1,492.4 880.4,511.5 880.6,495.8 880.9,526.6 881.2,532.1 881.4,457.4 881.7,489.5 882,528.1 882.3,518.4 882.5,519.8 882.8,506.7 883.1,474.2 883.3,512.1 883.6,545.8 883.9,497.2 884.1,466.4 884.4,501.6 884.7,532.2 885,524.7 885.2,581.2 885.5,505.3 885.8,525.6 886,498.1 886.3,492.6 886.6,527.4 886.8,483.8 887.1,469.5 887.4,536.8 887.7,513.3 887.9,487.3 888.2,529.1 888.5,526.7 888.7,478.3 889,497.4 889.3,499.9 889.5,464.5 889.8,535.8 890.1,566.6 890.4,503.3 890.6,486.5 890.9,510.6 891.2,477.1 891.4,485.5 891.7,585.9 892,524.2 892.2,502.2 892.5,495.9 892.8,487.7 893.1,480.7 893.3,539.8 893.6,511.6 893.9,413.3 894.1,517 894.4,547.1 894.7,522.5 894.9,484.5 895.2,468.9 895.5,500.1 895.8,521.6 896,535.5 896.3,534.5 896.6,507.6 896.8,493.1 897.1,501.3 897.4,505.4 897.6,494.2 897.9,528.6 898.2,529.5 898.5,513.1 898.7,513.5 899,521.3 899.3,497.9 899.5,503.2 899.8,502.7 900.1,492.7 900.3,505.5 900.6,531.2 900.9,521.4 901.2,493.7 901.4,519.9 901.7,530.3 902,471.8 902.2,466 902.5,504.4 902.8,547.1 903,511.5 903.3,482.6 903.6,494.8 903.9,508.6 904.1,433.7 904.4,504.1 904.7,493.6 904.9,502.2 905.2,497.9 905.5,502.7 905.7,500.8 906,521.9 906.3,525.1 906.6,515.9 906.8,489.5 907.1,494.8 907.4,502.6 907.6,512.6 907.9,433.7 908.2,515 908.4,501.1 908.7,477.7 909,497 909.3,533.4 909.5,525.7 909.8,512.2 910.1,501.2 910.3,469.2 910.6,486.5 910.9,513.4 911.1,518.8 911.4,522.7 911.7,506.5 912,512.7 912.2,493.1 912.5,502.1 912.8,520.9 913,519.3 913.3,523.2 913.6,508.7 913.8,519.1 914.1,505.9 914.4,508 914.7,489.1 914.9,523.9 915.2,493.1 915.5,472.9 915.7,516 916,544.5 916.3,519.4 916.5,492.5 916.8,492.8 917.1,502.1 917.4,522.9 917.6,504 917.9,528.4 918.2,513 918.4,495.8 918.7,530.8 919,531.5 919.2,511.7 919.5,461.1 919.8,490.7 920.1,500.8 920.3,525.1 920.6,534 920.9,516.8 921.1,473.2 921.4,488.2 921.7,510.7 921.9,578 922.2,507 922.5,531.7 922.8,499.5 923,494.7 923.3,496.1 923.6,490.9 923.8,502.7 924.1,532.9 924.4,491.7 924.6,502.4 924.9,509.3 925.2,478.5 925.5,486.9 925.7,553.6 926,540.4 926.3,500.1 926.5,501.7 926.8,495.8 927.1,498.4 927.3,505.5 927.6,486.6 927.9,487.5 928.2,534.9 928.4,532.1 928.7,504.1 929,485.9 929.2,481.1 929.5,518.7 929.8,553 930,498.5 930.3,494.2 930.6,503.2 930.9,526.1 931.1,524.5 931.4,501.8 931.7,510.2 931.9,506.2 932.2,495.5 932.5,587.5 932.7,513.7 933,515.5 933.3,483.3 933.6,501.3 933.8,490.2 934.1,499.4 934.4,545.1 934.6,532.4 934.9,471.2 935.2,452.4 935.4,448.5 935.7,514.7 936,528.6 936.3,536.8 936.5,478.8 936.8,479.1 937.1,519.9 937.3,532.8 937.6,522.2 937.9,539.9 938.1,507.4 938.4,475.1 938.7,503.2 939,503.8 939.2,508.3 939.5,555.4 939.8,507.7 940,459.2 940.3,522 940.6,554.1 940.8,499.3 941.1,482.6 941.4,509.2 941.6,503.5 941.9,516 942.2,521.8 942.5,500.1 942.7,501.2 943,533.4 943.3,510.8 943.5,489.4 943.8,482.2 944.1,515.1 944.3,511.9 944.6,504.5 944.9,486.5 945.2,502.1 945.4,519.2 945.7,512.9 946,520.2 946.2,505.8 946.5,491.4 946.8,498.4 947,519.9 947.3,527.3 947.6,494 947.9,496.3 948.1,485.4 948.4,499.5 948.7,527.5 948.9,449.4 949.2,508.3 949.5,574.9 949.7,512.8 950,485.3 950.3,500.1 950.6,473.4 950.8,495.4 951.1,530.6 951.4,517.3 951.6,502.6 951.9,516.7 952.2,520.8 952.4,499.6 952.7,490.7 953,482.3 953.3,510 953.5,507.5 953.8,512.1 954.1,518 954.3,513.7 954.6,511.4 954.9,517.1 955.1,511.7 955.4,493.5 955.7,516.9 956,520.7 956.2,483.1 956.5,506.5 956.8,519 957,499 957.3,495.3 957.6,524.3 957.8,489.4 958.1,462.3 958.4,496.2 958.7,538.8 958.9,451 959.2,490.8 959.5,507.9 959.7,524.1 960,497.9 960.3,490.5 960.5,518.1 960.8,519.8 961.1,491.8 961.4,503.3 961.6,521.8 961.9,511.7 962.2,499.9 962.4,515.1 962.7,525.9 963,510.8 963.2,487.4 963.5,506.9 963.8,535.9 964.1,503.9 964.3,473.9 964.6,498.2 964.9,517.8 965.1,512.1 965.4,520.2 965.7,496.4 965.9,509.3 966.2,544.5 966.5,526.8 966.8,474.8 967,489.1 967.3,487.1 967.6,481.7 967.8,519.3 968.1,557.3 968.4,511.6 968.6,512.5 968.9,504.2 969.2,469.7 969.5,501.1 969.7,522.4 970,543.4 970.3,521.5 970.5,511.9 970.8,473 971.1,496 971.3,528.2 971.6,485.8 971.9,512 972.2,545.9 972.4,520.1 972.7,492.9 973,506.7 973.2,497.7 973.5,495.2 973.8,504.3 974,498.5 974.3,506.7 974.6,517.2 974.9,530.9 975.1,523.4 975.4,526.7 975.7,502.4 975.9,471.4 976.2,479.6 976.5,523.8 976.7,514.9 977,500 977.3,485.8 977.6,509.5 977.8,542.8 978.1,513.5 978.4,478.2 978.6,481.8 978.9,488.7 979.2,504.8 979.4,593.7 979.7,507.6 980,513 980.3,513.2 980.5,511.7 980.8,495.1 981.1,476.7 981.3,502.8 981.6,508.5 981.9,518.8 982.1,531.8 982.4,493.3 982.7,478.6 983,494 983.2,520.9 983.5,511.3 983.8,507.9 984,524.7 984.3,516.6 984.6,489.9 984.8,497.9 985.1,501.9 985.4,504.2 985.7,521 985.9,521.1 986.2,482.9 986.5,492.6 986.7,516.3 987,522.4 987.3,512.9 987.5,497.4 987.8,498.1 988.1,483.1 988.4,514.1 988.6,559.7 988.9,562.4 989.2,481 989.4,495.4 989.7,520.7 990,511.2 990.2,497.4 990.5,517.1 990.8,534 991.1,498.7 991.3,490.6 991.6,509.9 991.9,496.4 992.1,512.6 992.4,555.1 992.7,476.5 992.9,454.7 993.2,526.7 993.5,555.7 993.8,514.5 994,503.3 994.3,534.1 994.6,495.3 994.8,470.7 995.1,492 995.4,507.3 995.6,529.3 995.9,552.9 996.2,512.4 996.5,505 996.7,490.3 997,483.6 997.3,513.3 997.5,507.8 997.8,483.3 998.1,510.4 998.3,508.1 998.6,491.1 998.9,492.7 999.2,524.1 999.4,513.6 999.7,474.6 1000,514.4 1000.2,520.8 1000.5,482.9 1000.8,489.5 1001,537.1 1001.3,534.1 1001.6,493.9 1001.9,500.3 1002.1,524.9 1002.4,481 1002.7,468.1 1002.9,529.7 1003.2,545.3 1003.5,476.8 1003.7,475.9 1004,522.5 1004.3,530.6 1004.6,522 1004.8,503.9 1005.1,489.5 1005.4,501.8 1005.6,510.3 1005.9,505.1 1006.2,482.8 1006.4,519.9 1006.7,521.1 1007,497.8 1007.3,525.2 1007.5,526.9 1007.8,503.8 1008.1,490.6 1008.3,468.6 1008.6,518.4 1008.9,520.1 1009.1,504.4 1009.4,507 1009.7,487.9 1010,486.9 1010.2,548.1 1010.5,507.8 1010.8,474.4 1011,490.9 1011.3,512.5 1011.6,492.7 1011.8,505.3 1012.1,516.7 1012.4,520.5 1012.7,494.6 1012.9,501.7 1013.2,477.4 1013.5,495.9 1013.7,523.9 1014,535.2 1014.3,507.4 1014.5,487.7 1014.8,499.3 1015.1,512.5 1015.4,504.4 1015.6,446.3 1015.9,532 1016.2,527 1016.4,487.5 1016.7,479.4 1017,557 1017.2,547.9 1017.5,519.1 1017.8,491.4 1018.1,496 1018.3,495.3 1018.6,507.7 1018.9,514.1 1019.1,509.5 1019.4,500.6 1019.7,503.1 1019.9,519.4 1020.2,523.8 1020.5,500.8 1020.8,477.4 1021,494.2 1021.3,519.4 1021.6,519.9 1021.8,525 1022.1,501.7 1022.4,510 1022.6,492.4 1022.9,488.5 1023.2,495.1 1023.5,522.4 1023.7,530.3 1024,511.9 1024.3,492.7 1024.5,498.6 1024.8,500.4 1025.1,502.3 1025.3,512.1 1025.6,508.6 1025.9,505.9 1026.2,521.4 1026.4,512.5 1026.7,528.7 1027,514.2 1027.2,470.8 1027.5,492.4 1027.8,537.2 1028,531.1 1028.3,494.4 1028.6,499.1 1028.9,533.1 1029.1,506.8 1029.4,483.1 1029.7,492.4 1029.9,520.2 1030.2,499.3 1030.5,494.5 1030.7,523.1 1031,517.8 1031.3,506.3 1031.6,478.1 1031.8,486.8 1032.1,523.6 1032.4,547.2 1032.6,505.8 1032.9,497.8 1033.2,509.5 1033.4,501.7 1033.7,500.8 1034,507.1 1034.3,527 1034.5,528.7 1034.8,510.6 1035.1,507.6 1035.3,433.7 1035.6,487.7 1035.9,527 1036.1,555.6 1036.4,497.9 1036.7,475.7 1037,522.9 1037.2,518.6 1037.5,492 1037.8,501 1038,519.8 1038.3,517.4 1038.6,518.9 1038.8,498.6 1039.1,482.8 1039.4,506 1039.7,500.3 1039.9,499.8 1040.2,515.2 1040.5,544.9 1040.7,503.8 1041,460.2 1041.3,508.9 1041.5,521.7 1041.8,507.3 1042.1,487.5 1042.4,500.2 1042.6,503.4 1042.9,505 1043.2,535.7 1043.4,529.3 1043.7,490.4 1044,492.8 1044.2,522.8 1044.5,510.7 1044.8,490.9 1045.1,492.1 1045.3,522 1045.6,513.4 1045.9,509.9 1046.1,512.6 1046.4,520 1046.7,518 1046.9,455.7 1047.2,475.2 1047.5,483.5 1047.8,491.6 1048,514.5 1048.3,531.9 1048.6,528.4 1048.8,510.7 1049.1,505.6 1049.4,505 1049.6,508 1049.9,488.1 1050.2,474.4 1050.5,495 1050.7,519.7 1051,556.7 1051.3,533.3 1051.5,490.7 1051.8,484.5 1052.1,507.8 1052.3,489.4 1052.6,489.2 1052.9,518.2 1053.2,517.2 1053.4,498.1 1053.7,511.3 1054,513.7 1054.2,504.9 1054.5,484.5 1054.8,515.6 1055,499.7 1055.3,502.7 1055.6,540 1055.9,512.7 1056.1,481.5 1056.4,504.5 1056.7,521.1 1056.9,503.6 1057.2,509.9 1057.5,515.8 1057.7,512.8 1058,552 1058.3,500.8 1058.6,495 1058.8,486.9 1059.1,500.1 1059.4,517.2 1059.6,502.4 1059.9,477.2 1060.2,508.5 1060.4,549.9 1060.7,497.3 1061,458.4 1061.3,507.1 1061.5,521.7 1061.8,477.6 1062.1,485.2 1062.3,530.1 1062.6,514.6 1062.9,535.2 1063.1,528.4 1063.4,488.2 1063.7,454.1 1064,510.3 1064.2,489.2 1064.5,485.5 1064.8,534.6 1065,554.6 1065.3,511.4 1065.6,468.7 1065.8,501 1066.1,506.6 1066.4,503.9 1066.7,494.7 1066.9,501.7 1067.2,536.3 1067.5,503.2 1067.7,495.2 1068,524.9 1068.3,533.5 1068.5,503.6 1068.8,516.5 1069.1,451 1069.4,491.7 1069.6,499.8 1069.9,500.2 1070.2,526.6 1070.4,544 1070.7,522.5 1071,493.6 1071.2,528.9 1071.5,503.8 1071.8,458.7 1072,467.3 1072.3,519.5 1072.6,541.3 1072.9,521.6 1073.1,514.7 1073.4,491.6 1073.7,481.5 1073.9,514.9 1074.2,520.9 1074.5,500.2 1074.7,494.2 1075,520.6 1075.3,502.9 1075.6,473.7 1075.8,504.5 1076.1,534.2 1076.4,508.8 1076.6,507.7 1076.9,502.9 1077.2,493.4 1077.4,523 1077.7,548.2 1078,459.1 1078.3,471.5 1078.5,531.2 1078.8,542.6 1079.1,523.2 1079.3,496.6 1079.6,444.1 1079.9,506.3 1080.1,478.4 1080.4,497.5 1080.7,504.5 1081,494 1081.2,507.3 1081.5,535 1081.8,508.7 1082,503.6 1082.3,526.2 1082.6,500.1 1082.8,474.1 1083.1,517.4 1083.4,546.5 1083.7,500 1083.9,487.1 1084.2,513.8 1084.5,494.4 1084.7,528.8 1085,535.6 1085.3,502.9 1085.5,493.8 1085.8,497.5 1086.1,483.8 1086.4,495.5 1086.6,512.5 1086.9,523.8 1087.2,513.3 1087.4,521.4 1087.7,486.9 1088,485.3 1088.2,537.8 1088.5,536.7 1088.8,481 1089.1,474.1 1089.3,514.9 1089.6,499.6 1089.9,519.3 1090.1,520.5 1090.4,516.3 1090.7,494.7 1090.9,495.5 1091.2,509.1 1091.5,519 1091.8,514.8 1092,485.7 1092.3,488.9 1092.6,510.1 1092.8,508.1 1093.1,526.6 1093.4,528.8 1093.6,491.3 1093.9,487.6 1094.2,514.6 1094.5,505.2 1094.7,489 1095,522.6 1095.3,509.4 1095.5,495.9 1095.8,493.1 1096.1,537.7 1096.3,531.7 1096.6,486.2 1096.9,520.5 1097.2,511.7 1097.4,467.3 1097.7,488.9 1098,527.5 1098.2,515.2 1098.5,513.6 1098.8,521.7 1099,507.1 1099.3,509.4 1099.6,503.5 1099.9,501.9 1100.1,496.5 1100.4,503 1100.7,508.3 1100.9,501.5 1101.2,521.5 1101.5,519.7 1101.7,497 1102,552 1102.3,516.2 1102.6,504.5 1102.8,515 1103.1,440 1103.4,493.3 1103.6,507.6 1103.9,544 1104.2,532.1 1104.4,487.1 1104.7,481 1105,502 1105.3,521.2 1105.5,514.9 1105.8,505.1 1106.1,506.5 1106.3,513.8 1106.6,525.8 1106.9,486.6 1107.1,485.3 1107.4,495 1107.7,532.5 1108,502.5 1108.2,586.5 1108.5,515.7 1108.8,522.3 1109,485.2 1109.3,496.6 1109.6,509.3 1109.8,512.7 1110.1,490.8 1110.4,503 1110.7,522.1 1110.9,442.2 1111.2,499 1111.5,485 1111.7,519.7 1112,537.8 1112.3,502.7 1112.5,478.2 1112.8,493.3 1113.1,507.9 1113.4,513.5 1113.6,517 1113.9,503.9 1114.2,494.2 1114.4,520 1114.7,532.4 1115,496.9 1115.2,485.3 1115.5,509.3 1115.8,510.5 1116.1,517.6 1116.3,505.5 1116.6,532.6 1116.9,532.8 1117.1,499.1 1117.4,492.9 1117.7,524.2 1117.9,495.8 1118.2,502.3 1118.5,521.6 1118.8,514.1 1119,467.9 1119.3,499.7 1119.6,554 1119.8,508.4 1120.1,486.7 1120.4,500.7 1120.6,541 1120.9,518.2 1121.2,492.6 1121.5,477.7 1121.7,488.9 1122,520.5 1122.3,525.8 1122.5,525.6 1122.8,507.1 1123.1,490.7 1123.3,499.9 1123.6,511.3 1123.9,501.7 1124.2,477 1124.4,516.6 1124.7,547.1 1125,502.5 1125.2,498.9 1125.5,536.3 1125.8,525.5 1126,501.8 1126.3,521.9 1126.6,492.7 1126.9,478.4 1127.1,457.9 1127.4,525.7 1127.7,492.9 1127.9,505.7 1128.2,527.9 1128.5,511.9 1128.7,492.1 1129,499.4 1129.3,520.6 1129.6,512.2 1129.8,522.2 1130.1,487.5 1130.4,462.7 1130.6,492.8 1130.9,543.6 1131.2,524.8 1131.4,518 1131.7,523.3 1132,505.4 1132.3,485.8 1132.5,491 1132.8,507.8 1133.1,494.8 1133.3,519.6 1133.6,536.1 1133.9,504 1134.1,498.7 1134.4,525.5 1134.7,510.1 1135,478.6 1135.2,500 1135.5,518.8 1135.8,486.8 1136,507.9 1136.3,524.5 1136.6,494.9 1136.8,499.7 1137.1,520.4 1137.4,516.2 1137.7,501.3 1137.9,494.8 1138.2,510.8 1138.5,514 1138.7,513.7 1139,483.2 1139.3,490.8 1139.5,519.3 1139.8,541.7 1140.1,494.8 1140.4,477 1140.6,497 1140.9,515.5 1141.2,519.1 1141.4,490.1 1141.7,487.3 1142,521.4 1142.2,530.4 1142.5,523.9 1142.8,490.5 1143.1,487.1 1143.3,502.1 1143.6,503.7 1143.9,513.6 1144.1,535.5 1144.4,511.7 1144.7,462.5 1144.9,496.9 1145.2,512.6 1145.5,520.5 1145.8,496 1146,531 1146.3,519.9 1146.6,549.8 1146.8,491.9 1147.1,506.4 1147.4,497.7 1147.6,506.4 1147.9,504.2 1148.2,480.4 1148.5,488.7 1148.7,516.1 1149,522.8 1149.3,507.5 1149.5,518.5 1149.8,505.8 1150.1,502.3 1150.3,521.8 1150.6,503.6 1150.9,461.5 1151.2,488.9 1151.4,519.1 1151.7,512.9 1152,538 1152.2,524 1152.5,503.1 1152.8,496.3 1153,485.1 1153.3,495.7 1153.6,513.8 1153.9,531.1 1154.1,524.3 1154.4,504.3 1154.7,517.2 1154.9,504.7 1155.2,489.8 1155.5,510 1155.7,523.9 1156,492.9 1156.3,508.4 1156.6,527.6 1156.8,506.9 1157.1,495.6 1157.4,500.7 1157.6,502.6 1157.9,537.8 1158.2,540.3 1158.4,500.4 1158.7,492 1159,510.9 1159.3,485.1 1159.5,497 1159.8,551.7 1160.1,547.6 1160.3,474.4 1160.6,499 1160.9,522.1 1161.1,511.4 1161.4,499.2 1161.7,507.8 1162,498.3 1162.2,502.9 1162.5,504.2 1162.8,513.9 1163,512.5 1163.3,502.6 1163.6,499.9 1163.8,516.4 1164.1,530.1 1164.4,504.7 1164.7,475.3 1164.9,487.9 1165.2,523.4 1165.5,530.2 1165.7,499.1 1166,480.2 1166.3,518.8 1166.5,518.5 1166.8,498.6 1167.1,501.1 1167.4,507.5 1167.6,495.4 1167.9,459.8 1168.2,514.8 1168.4,510.7 1168.7,519.3 1169,535.4 1169.2,527.2 1169.5,481.5 1169.8,483.3 1170.1,522.1 1170.3,508.2 1170.6,479.7 1170.9,508.9 1171.1,549 1171.4,523.4 1171.7,486.8 1171.9,507.7 1172.2,487.1 1172.5,468.1 1172.8,519.6 1173,537.2 1173.3,512.1 1173.6,511.6 1173.8,513.6 1174.1,485.9 1174.4,486.1 1174.6,512.4 1174.9,522.9 1175.2,493.6 1175.5,500.3 1175.7,501.3 1176,498.4 1176.3,506.2 1176.5,516.5 1176.8,502.3 1177.1,495 1177.3,519.5 1177.6,520.4 1177.9,512.9 1178.2,496.6 1178.4,486.7 1178.7,515 1179,515.7 1179.2,513.9 1179.5,514.7 1179.8,514.9 1180,489.7 1180.3,500.7 1180.6,524 1180.9,521.3 1181.1,512.5 1181.4,506.3 1181.7,496.2 1181.9,508.1 1182.2,535.3 1182.5,519.1 1182.7,471.5 1183,491.5 1183.3,498.2 1183.6,495.3 1183.8,500 1184.1,502 1184.4,551.4 1184.6,514.7 1184.9,536.8 1185.2,504.8 1185.4,514.4 1185.7,494.3 1186,480.2 1186.3,512.6 1186.5,525.3 1186.8,517.3 1187.1,507.9 1187.3,533.5 1187.6,528.2 1187.9,496.2 1188.1,482.8 1188.4,498.8 1188.7,521 1189,506 1189.2,518.1 1189.5,505.4 1189.8,501.7 1190,524.3 1190.3,532.3 1190.6,509.7 1190.8,476.1 1191.1,486.3 1191.4,510.8 1191.7,519.3 1191.9,505.2 1192.2,502.7 1192.5,524.8 1192.7,503.6 1193,489.4 1193.3,513.2 1193.5,505.7 1193.8,495 1194.1,489.6 1194.4,517.2 1194.6,553 1194.9,506.7 1195.2,509.5 1195.4,498.1 1195.7,493.7 1196,494.8 1196.2,522 1196.5,506.5 1196.8,502.9 1197.1,516.1 1197.3,506.1 1197.6,498.4 1197.9,516.8 1198.1,530.2 1198.4,507.2 1198.7,494.7 1198.9,502.4 1199.2,509.1 1199.5,499.1 1199.8,500 1200,508.2 1200.3,499.6 1200.6,503.2 1200.8,522.1 1201.1,517.1 1201.4,510.2 1201.6,490.3 1201.9,492.5 1202.2,502.2 1202.4,519.3 1202.7,507.4 1203,497.4 1203.3,505.9 1203.5,498.9 1203.8,485.1 1204.1,515.9 1204.3,549.9 1204.6,515.8 1204.9,465.8 1205.1,482.5 1205.4,517.7 1205.7,457.9 1206,496 1206.2,549 1206.5,513.3 1206.8,471.5 1207,492 1207.3,536 1207.6,512.5 1207.8,491.3 1208.1,511.9 1208.4,507.6 1208.7,505.3 1208.9,510.5 1209.2,505.7 1209.5,506.1 1209.7,513 1210,509 1210.3,505.1 1210.5,510.3 1210.8,510.1 1211.1,493.6 1211.4,492 1211.6,531 1211.9,530.9 1212.2,487 1212.4,483.7 1212.7,530.2 1213,525.8 1213.2,469.3 1213.5,490.1 1213.8,524.3 1214.1,515.9 1214.3,500.8 1214.6,498.2 1214.9,506.1 1215.1,517.8 1215.4,517.3 1215.7,497.5 1215.9,487 1216.2,515.1 1216.5,503.5 1216.8,486.7 1217,512.6 1217.3,523.8 1217.6,529.9 1217.8,499.7 1218.1,486.1 1218.4,492.7 1218.6,520.9 1218.9,503.5 1219.2,500.5 1219.5,496.5 1219.7,496.4 1220,515.4 1220.3,537.4 1220.5,457.9 1220.8,487.2 1221.1,489.8 1221.3,505.4 1221.6,502 1221.9,505.1 1222.2,491 1222.4,508.2 1222.7,523.7 1223,493.2 1223.2,494.6 1223.5,531.1 1223.8,538.7 1224,470.3 1224.3,462.6 1224.6,526.7 1224.9,536.1 1225.1,505.7 1225.4,497.8 1225.7,519.1 1225.9,519.1 1226.2,489.3 1226.5,484.2 1226.7,496.5 1227,515.6 1227.3,501.9 1227.6,504.1 1227.8,507.1 1228.1,499.8 1228.4,520.2 1228.6,535.3 1228.9,522.7 1229.2,483 1229.4,482.9 1229.7,465.2 1230,497.6 1230.3,547.2 1230.5,538 1230.8,513.2 1231.1,491 1231.3,475.6 1231.6,494 1231.9,511.8 1232.1,509.5 1232.4,512.3 1232.7,537.2 1233,502 1233.2,497.7 1233.5,510.7 1233.8,510.4 1234,490.8 1234.3,494.7 1234.6,518.6 1234.8,525.9 1235.1,499.1 1235.4,548.2 1235.7,506.1 1235.9,542.1 1236.2,501.2 1236.5,479.5 1236.7,519.1 1237,515.9 1237.3,489.5 1237.5,508.3 1237.8,497.5 1238.1,483.1 1238.4,509.5 1238.6,536 1238.9,522.9 1239.2,513.6 1239.4,483 1239.7,488.5 1240,518.8 1240.2,503.7 1240.5,488.1 1240.8,531 1241.1,540.6 1241.3,482.9 1241.6,471.8 1241.9,499.5 1242.1,515.3 1242.4,532.1 1242.7,518.5 1242.9,501.8 1243.2,507.3 1243.5,485.1 1243.8,484.1 1244,511 1244.3,519.6 1244.6,507.4 1244.8,520.4 1245.1,522 1245.4,486 1245.6,489.9 1245.9,499 1246.2,518.4 1246.5,510.7 1246.7,512.7 1247,509.4 1247.3,502.4 1247.5,498.4 1247.8,515.8 1248.1,527.4 1248.3,513.2 1248.6,498.5 1248.9,507.6 1249.2,505 1249.4,499.4 1249.7,521.4 1250,512.6 1250.2,491.1 1250.5,507.8 1250.8,508.3 1251,485.8 1251.3,516.4 1251.6,546.8 1251.9,481.8 1252.1,475 1252.4,518.3 1252.7,505.2 1252.9,479.6 1253.2,504 1253.5,546.8 1253.7,521.2 1254,487.9 1254.3,497.9 1254.6,508.5 1254.8,532.9 1255.1,501.4 1255.4,484.5 1255.6,484.7 1255.9,514.5 1256.2,515.8 1256.4,537.5 1256.7,518.1 1257,499.1 1257.3,487.2 1257.5,490 1257.8,494.7 1258.1,502.3 1258.3,518.2 1258.6,516.4 1258.9,519.9 1259.1,507.9 1259.4,499.4 1259.7,513.9 1260,528.1 1260.2,513.7 1260.5,489.4 1260.8,492.5 1261,496.6 1261.3,487 1261.6,506 1261.8,514.9 1262.1,511.9 1262.4,499.1 1262.7,501.1 1262.9,500.7 1263.2,506.5 1263.5,499.2 1263.7,509.8 1264,509 1264.3,509.8 1264.5,510.9 1264.8,510.5 1265.1,502.8 1265.4,511.6 1265.6,532.1 1265.9,513 1266.2,479.6 1266.4,488.4 1266.7,502.6 1267,507 1267.2,494.5 1267.5,522 1267.8,535.8 1268.1,498 1268.3,477.3 1268.6,498.3 1268.9,514.2 1269.1,526.7 1269.4,500.4 1269.7,498 1269.9,516.3 1270.2,489.5 1270.5,497.8 1270.8,505.5 1271,529.7 1271.3,513.5 1271.6,506.7 1271.8,511.8 1272.1,494.5 1272.4,491.6 1272.6,501.8 1272.9,501 1273.2,525 1273.5,517.3 1273.7,495.6 1274,498.6 1274.3,523.1 1274.5,554.5 1274.8,513.3 1275.1,488.2 1275.3,478.2 1275.6,501.1 1275.9,519.3 1276.2,456.6 1276.4,505.3 1276.7,521.8 1277,503.4 1277.2,481.1 1277.5,493.1 1277.8,499.7 1278,522.9 1278.3,523.8 1278.6,505.8 1278.9,495.5 1279.1,492.6 1279.4,523.9 1279.7,511.1 1279.9,520 1280.2,529 1280.5,497.1 1280.7,478.3 1281,503.2 1281.3,516.9 1281.6,507.7 1281.8,502.2 1282.1,509.7 1282.4,513.3 1282.6,498.4 1282.9,501.9 1283.2,515 1283.4,490.3 1283.7,495.6 1284,502.4 1284.3,525.2 1284.5,506.7 1284.8,507.4 1285.1,505 1285.3,501.7 1285.6,509.8 1285.9,509.8 1286.1,482.8 1286.4,501.6 1286.7,519.9 1287,517.1 1287.2,523.6 1287.5,516.9 1287.8,489.2 1288,484.3 1288.3,528.2 1288.6,509.1 1288.8,484.2 1289.1,504.8 1289.4,514 1289.7,504.6 1289.9,522.9 1290.2,514.6 1290.5,476.5 1290.7,481.7 1291,521.2 1291.3,517.1 1291.5,505.6 1291.8,558.3 1292.1,513.4 1292.4,497 1292.6,499.2 1292.9,505.8 1293.2,507.5 1293.4,512.4 1293.7,490.7 1294,468.2 1294.2,511 1294.5,516.4 1294.8,506.5 1295.1,534.5 1295.3,496.1 1295.6,486.9 1295.9,509.4 1296.1,531.6 1296.4,517.8 1296.7,515.6 1296.9,472.7" stroke="#000" stroke-width="1" fill="none"/>
<path d="M325.3,513.1 325.6,512.9 325.8,512.5 326.1,512 326.4,511.3 326.6,510.6 326.9,509.9 327.2,509.2 327.4,508.5 327.7,507.9 328,507.5 328.3,507.1 328.5,507 328.8,507 329.1,507.3 329.3,507.6 329.6,508 329.9,508.5 330.1,508.8 330.4,508.9 330.7,509 331,508.8 331.2,508.6 331.5,508.5 331.8,508.5 332,508.7 332.3,509.2 332.6,509.8 332.8,510.6 333.1,511.3 333.4,511.8 333.7,512.1 333.9,512 334.2,511.7 334.5,511.2 334.7,510.7 335,510.3 335.3,510.1 335.5,510.1 335.8,510.4 336.1,510.8 336.4,511.2 336.6,511.4 336.9,511.5 337.2,511.4 337.4,511.3 337.7,511 338,510.7 338.2,510.2 338.5,509.8 338.8,509.4 339.1,509 339.3,508.7 339.6,508.6 339.9,508.6 340.1,508.7 340.4,508.9 340.7,509.1 340.9,509.5 341.2,509.8 341.5,510.1 341.8,510.4 342,510.6 342.3,510.7 342.6,510.8 342.8,510.7 343.1,510.6 343.4,510.4 343.6,510.2 343.9,509.9 344.2,509.5 344.5,509.1 344.7,508.7 345,508.3 345.3,508.1 345.5,507.6 345.8,507 346.1,506.4 346.3,506 346.6,505.9 346.9,506.5 347.2,507.8 347.4,509.6 347.7,511.8 348,513.9 348.2,515.5 348.5,516.2 348.8,515.8 349,514.3 349.3,511.9 349.6,508.9 349.9,506 350.1,503.7 350.4,502.5 350.7,502.6 350.9,503.8 351.2,506 351.5,508.6 351.7,511.3 352,513.5 352.3,514.9 352.6,515.3 352.8,514.7 353.1,513.4 353.4,511.8 353.6,510.2 353.9,509.1 354.2,508.5 354.4,508.5 354.7,508.9 355,509.6 355.3,510.2 355.5,510.6 355.8,510.6 356.1,510.2 356.3,509.6 356.6,508.9 356.9,508.1 357.1,507.6 357.4,507.4 357.7,507.4 358,507.7 358.2,508.1 358.5,508.6 358.8,509.1 359,509.6 359.3,510 359.6,510.3 359.8,510.4 360.1,510.4 360.4,510.2 360.7,509.9 360.9,509.4 361.2,508.9 361.5,508.4 361.7,507.9 362,507.4 362.3,507.1 362.5,506.9 362.8,506.9 363.1,507.1 363.4,507.5 363.6,507.9 363.9,508.4 364.2,508.7 364.4,508.9 364.7,509 365,509.1 365.2,509.2 365.5,509.4 365.8,509.7 366.1,510.2 366.3,510.8 366.6,511.4 366.9,511.9 367.1,512.1 367.4,512 367.7,511.6 367.9,510.8 368.2,509.9 368.5,509 368.8,508.2 369,507.6 369.3,507.4 369.6,507.6 369.8,508 370.1,508.6 370.4,509.2 370.6,509.7 370.9,510 371.2,510.1 371.5,510 371.7,509.7 372,509.3 372.3,508.9 372.5,508.5 372.8,508.1 373.1,507.8 373.3,507.5 373.6,507.3 373.9,507 374.2,506.7 374.4,506.5 374.7,506.4 375,506.4 375.2,506.5 375.5,506.6 375.8,506.9 376,507.2 376.3,507.5 376.6,507.9 376.9,508.3 377.1,508.7 377.4,509.1 377.7,509.4 377.9,509.7 378.2,509.9 378.5,510 378.7,510.1 379,510.1 379.3,510 379.6,509.9 379.8,509.8 380.1,509.7 380.4,509.5 380.6,509.4 380.9,509.3 381.2,509.2 381.4,509.1 381.7,509 382,508.9 382.3,508.8 382.5,508.8 382.8,508.7 383.1,508.6 383.3,508.5 383.6,508.4 383.9,508.3 384.1,508.2 384.4,508.3 384.7,508.4 385,508.6 385.2,508.8 385.5,509 385.8,508.9 386,508.6 386.3,508 386.6,507.1 386.8,506.2 387.1,505.3 387.4,504.5 387.7,504.2 387.9,504.4 388.2,505.1 388.5,506.2 388.7,507.7 389,509.2 389.3,510.6 389.5,511.5 389.8,511.8 390.1,511.5 390.4,510.4 390.6,508.9 390.9,507.1 391.2,505.4 391.4,504.1 391.7,503.4 392,503.4 392.2,504.3 392.5,505.8 392.8,507.7 393.1,509.8 393.3,511.6 393.6,512.8 393.9,513.4 394.1,513.1 394.4,512.1 394.7,510.5 394.9,508.7 395.2,506.9 395.5,505.5 395.8,504.6 396,504.3 396.3,504.7 396.6,505.5 396.8,506.6 397.1,507.7 397.4,508.5 397.6,508.9 397.9,508.8 398.2,508.2 398.5,507.1 398.7,505.9 399,504.6 399.3,503.6 399.5,503 399.8,503 400.1,503.5 400.3,504.4 400.6,505.6 400.9,506.9 401.2,507.9 401.4,508.7 401.7,509 402,508.8 402.2,508.3 402.5,507.6 402.8,506.7 403,505.9 403.3,505.2 403.6,504.8 403.9,504.6 404.1,504.6 404.4,504.7 404.7,504.9 404.9,505.2 405.2,505.3 405.5,505.5 405.7,505.6 406,505.6 406.3,505.6 406.6,505.7 406.8,505.7 407.1,505.9 407.4,506.1 407.6,506.3 407.9,506.5 408.2,506.7 408.4,506.9 408.7,506.9 409,506.8 409.3,506.6 409.5,506.4 409.8,506 410.1,505.6 410.3,505.2 410.6,504.9 410.9,504.5 411.1,504.2 411.4,504 411.7,503.8 412,503.6 412.2,503.5 412.5,503.4 412.8,503.5 413,503.6 413.3,503.9 413.6,504.3 413.8,504.8 414.1,505.4 414.4,505.9 414.7,506.5 414.9,506.9 415.2,507.1 415.5,507.1 415.7,506.8 416,506.4 416.3,505.9 416.5,505.4 416.8,504.9 417.1,504.5 417.4,504.4 417.6,504.4 417.9,504.6 418.2,504.8 418.4,505.1 418.7,505.4 419,505.5 419.2,505.5 419.5,505.5 419.8,505.3 420.1,505.1 420.3,504.9 420.6,504.8 420.9,504.7 421.1,504.6 421.4,504.6 421.7,504.5 421.9,504.5 422.2,504.5 422.5,504.4 422.7,504.4 423,504.4 423.3,504.4 423.6,504.4 423.8,504.5 424.1,504.5 424.4,504.6 424.6,504.7 424.9,504.9 425.2,505.1 425.4,505.3 425.7,505.6 426,505.8 426.3,506.1 426.5,506.3 426.8,506.5 427.1,506.6 427.3,506.7 427.6,506.8 427.9,506.8 428.1,506.7 428.4,506.7 428.7,506.6 429,506.7 429.2,506.8 429.5,507 429.8,507.2 430,507.3 430.3,507.2 430.6,507 430.8,506.5 431.1,505.8 431.4,505 431.7,504.2 431.9,503.4 432.2,502.9 432.5,502.6 432.7,502.5 433,502.6 433.3,502.9 433.5,503.2 433.8,503.5 434.1,503.6 434.4,503.7 434.6,503.6 434.9,503.6 435.2,503.6 435.4,503.7 435.7,503.8 436,504.1 436.2,504.4 436.5,504.8 436.8,505.1 437.1,505.3 437.3,505.6 437.6,505.8 437.9,506.1 438.1,506.4 438.4,506.8 438.7,507.2 438.9,507.5 439.2,507.9 439.5,508.2 439.8,508.5 440,508.7 440.3,508.8 440.6,508.7 440.8,508.5 441.1,508.2 441.4,507.7 441.6,507.2 441.9,506.5 442.2,505.8 442.5,505.1 442.7,504.5 443,503.9 443.3,503.4 443.5,503.1 443.8,502.8 444.1,502.7 444.3,502.7 444.6,502.8 444.9,503 445.2,503.2 445.4,503.5 445.7,503.9 446,504.3 446.2,504.7 446.5,505.1 446.8,505.5 447,505.9 447.3,506.2 447.6,506.4 447.9,506.5 448.1,506.5 448.4,506.4 448.7,506.1 448.9,505.9 449.2,505.5 449.5,504.8 449.7,504.1 450,503.5 450.3,503.1 450.6,503.1 450.8,503.6 451.1,504.5 451.4,505.7 451.6,507 451.9,508.2 452.2,509 452.4,509.2 452.7,508.9 453,508 453.3,506.9 453.5,505.6 453.8,504.5 454.1,503.8 454.3,503.6 454.6,503.9 454.9,504.6 455.1,505.6 455.4,506.6 455.7,507.3 456,507.8 456.2,507.8 456.5,507.3 456.8,506.6 457,505.7 457.3,504.7 457.6,504 457.8,503.5 458.1,503.4 458.4,503.6 458.7,504 458.9,504.6 459.2,505.1 459.5,505.5 459.7,505.6 460,505.4 460.3,505 460.5,504.5 460.8,503.9 461.1,503.5 461.4,503.5 461.6,503.9 461.9,504.8 462.2,506.1 462.4,507.7 462.7,509.3 463,510.7 463.2,511.7 463.5,512 463.8,511.7 464.1,510.7 464.3,509.1 464.6,507.2 464.9,505.4 465.1,503.7 465.4,502.5 465.7,501.9 465.9,502 466.2,502.5 466.5,503.4 466.8,504.5 467,505.6 467.3,506.4 467.6,506.9 467.8,507 468.1,506.8 468.4,506.5 468.6,506 468.9,505.7 469.2,505.5 469.5,505.6 469.7,506 470,506.5 470.3,507.3 470.5,508.1 470.8,508.9 471.1,509.5 471.3,509.8 471.6,510 471.9,509.8 472.2,509.4 472.4,508.9 472.7,508.2 473,507.6 473.2,507.1 473.5,506.7 473.8,506.6 474,506.7 474.3,507 474.6,507.4 474.9,507.9 475.1,508.4 475.4,508.8 475.7,509.1 475.9,509.4 476.2,509.6 476.5,509.7 476.7,509.7 477,509.5 477.3,509.3 477.6,508.9 477.8,508.6 478.1,508.2 478.4,507.9 478.6,507.6 478.9,507.4 479.2,507.3 479.4,507.2 479.7,507.2 480,507.3 480.3,507.5 480.5,507.6 480.8,507.8 481.1,507.9 481.3,507.9 481.6,507.9 481.9,507.9 482.1,507.8 482.4,507.9 482.7,508 483,508.1 483.2,508.3 483.5,508.4 483.8,508.5 484,508.4 484.3,508.1 484.6,507.6 484.8,507.1 485.1,506.7 485.4,506.4 485.7,506.4 485.9,506.8 486.2,507.6 486.5,508.8 486.7,510.1 487,511.4 487.3,512.5 487.5,513.2 487.8,513.5 488.1,513.2 488.4,512.5 488.6,511.4 488.9,510.2 489.2,509 489.4,508.1 489.7,507.5 490,507.4 490.2,507.7 490.5,508.2 490.8,508.9 491.1,509.6 491.3,510.1 491.6,510.2 491.9,510 492.1,509.5 492.4,508.7 492.7,507.7 492.9,506.7 493.2,505.9 493.5,505.5 493.8,505.4 494,505.7 494.3,506.3 494.6,507.1 494.8,508 495.1,508.6 495.4,509.1 495.6,509.1 495.9,508.9 496.2,508.4 496.5,507.8 496.7,507.3 497,506.9 497.3,506.8 497.5,506.9 497.8,507.3 498.1,507.8 498.3,508.3 498.6,508.8 498.9,509 499.2,509 499.4,508.9 499.7,508.7 500,508.7 500.2,508.8 500.5,509.1 500.8,509.6 501,510.3 501.3,511 501.6,511.5 501.9,511.7 502.1,511.6 502.4,511.2 502.7,510.6 502.9,509.9 503.2,509.2 503.5,508.6 503.7,508.2 504,508 504.3,507.9 504.6,507.9 504.8,507.8 505.1,507.6 505.4,507.4 505.6,507.4 505.9,507.4 506.2,507.5 506.4,507.6 506.7,507.8 507,508.1 507.3,508.4 507.5,508.7 507.8,509.1 508.1,509.4 508.3,509.7 508.6,510 508.9,510.1 509.1,510.1 509.4,510 509.7,509.7 510,509.3 510.2,508.7 510.5,508 510.8,507.2 511,506.5 511.3,505.9 511.6,505.4 511.8,505 512.1,504.9 512.4,504.8 512.7,504.9 512.9,505.3 513.2,506 513.5,506.9 513.7,507.9 514,508.9 514.3,509.9 514.5,510.7 514.8,511.4 515.1,511.9 515.4,512.3 515.6,512.5 515.9,512.7 516.2,512.7 516.4,512.6 516.7,512.2 517,511.7 517.2,510.9 517.5,509.9 517.8,508.8 518.1,507.8 518.3,506.9 518.6,506.3 518.9,505.9 519.1,505.8 519.4,505.9 519.7,506.1 519.9,506.5 520.2,506.8 520.5,507.1 520.8,507.4 521,507.7 521.3,508 521.6,508.6 521.8,509.3 522.1,510.1 522.4,511.1 522.6,511.9 522.9,512.6 523.2,512.9 523.5,512.8 523.7,512.3 524,511.4 524.3,510.1 524.5,508.7 524.8,507.3 525.1,506.1 525.3,505.2 525.6,504.5 525.9,504.1 526.2,504 526.4,504.1 526.7,504.4 527,504.8 527.2,505.2 527.5,505.8 527.8,506.6 528,507.3 528.3,508.1 528.6,508.9 528.9,509.6 529.1,510.3 529.4,510.8 529.7,511.2 529.9,511.5 530.2,511.6 530.5,511.6 530.7,511.5 531,511.3 531.3,511 531.6,510.6 531.8,510.2 532.1,509.8 532.4,509.4 532.6,509 532.9,508.7 533.2,508.4 533.4,508.2 533.7,508.1 534,508 534.3,507.9 534.5,507.9 534.8,507.9 535.1,507.9 535.3,507.9 535.6,507.9 535.9,508 536.1,508 536.4,508.1 536.7,508.1 537,508.2 537.2,508.1 537.5,508.1 537.8,508.1 538,508.1 538.3,508 538.6,508 538.8,508 539.1,508 539.4,508.1 539.7,508.1 539.9,508.2 540.2,508.4 540.5,508.5 540.7,508.6 541,508.8 541.3,508.9 541.5,509 541.8,509 542.1,509 542.4,509 542.6,509 542.9,508.9 543.2,508.8 543.4,508.7 543.7,508.6 544,508.6 544.2,508.5 544.5,508.5 544.8,508.5 545.1,508.6 545.3,508.6 545.6,508.7 545.9,508.8 546.1,508.9 546.4,509 546.7,509.1 546.9,509.2 547.2,509.2 547.5,509.3 547.8,509.3 548,509.2 548.3,509.2 548.6,509.1 548.8,509 549.1,508.9 549.4,508.8 549.6,508.7 549.9,508.6 550.2,508.5 550.5,508.4 550.7,508.3 551,508.3 551.3,508.4 551.5,508.4 551.8,508.3 552.1,507.8 552.3,507.1 552.6,506.2 552.9,505.2 553.1,504.5 553.4,504.1 553.7,504.3 554,505.2 554.2,506.8 554.5,508.9 554.8,510.9 555,512.7 555.3,513.7 555.6,514.1 555.8,513.6 556.1,512.4 556.4,510.9 556.7,509.2 556.9,507.8 557.2,506.8 557.5,506.6 557.7,507 558,508 558.3,509.3 558.5,510.7 558.8,511.7 559.1,512.3 559.4,512.1 559.6,511.2 559.9,509.8 560.2,508 560.4,506.2 560.7,504.7 561,503.8 561.2,503.6 561.5,504.2 561.8,505.5 562.1,507.1 562.3,508.7 562.6,510.1 562.9,511 563.1,511.3 563.4,510.8 563.7,509.8 563.9,508.5 564.2,507.2 564.5,506.2 564.8,505.7 565,505.9 565.3,506.7 565.6,507.8 565.8,509.1 566.1,510.2 566.4,510.9 566.6,511 566.9,510.6 567.2,509.7 567.5,508.6 567.7,507.5 568,506.7 568.3,506.2 568.5,506.3 568.8,506.8 569.1,507.7 569.3,508.8 569.6,509.8 569.9,510.7 570.2,511.2 570.4,511.4 570.7,511.1 571,510.6 571.2,509.9 571.5,509.2 571.8,508.6 572,508.4 572.3,508.4 572.6,508.6 572.9,509.1 573.1,509.6 573.4,510 573.7,510.3 573.9,510.4 574.2,510.2 574.5,509.8 574.7,509.3 575,508.7 575.3,508.1 575.6,507.6 575.8,507.2 576.1,507 576.4,506.9 576.6,506.8 576.9,506.7 577.2,506.7 577.4,506.6 577.7,506.4 578,506.2 578.3,506 578.5,505.8 578.8,505.7 579.1,505.6 579.3,505.7 579.6,505.9 579.9,506.3 580.1,506.8 580.4,507.4 580.7,508.2 581,508.9 581.2,509.6 581.5,510.2 581.8,510.7 582,510.9 582.3,510.9 582.6,510.7 582.8,510.5 583.1,510.2 583.4,510.1 583.7,510.1 583.9,510.4 584.2,510.9 584.5,511.5 584.7,512.1 585,512.6 585.3,512.7 585.5,512.3 585.8,511.5 586.1,510.2 586.4,508.7 586.6,507.1 586.9,505.7 587.2,504.8 587.4,504.4 587.7,504.8 588,505.6 588.2,506.9 588.5,508.3 588.8,509.4 589.1,510 589.3,509.9 589.6,509 589.9,507.5 590.1,505.5 590.4,503.5 590.7,501.7 590.9,500.5 591.2,500.2 591.5,500.8 591.8,502.2 592,504.4 592.3,507 592.6,509.6 592.8,511.9 593.1,513.8 593.4,515 593.6,515.4 593.9,515.1 594.2,514.3 594.5,513.1 594.7,511.8 595,510.4 595.3,509.1 595.5,508.1 595.8,507.4 596.1,506.9 596.3,506.6 596.6,506.5 596.9,506.6 597.2,506.7 597.4,507 597.7,507.3 598,507.6 598.2,508 598.5,508.3 598.8,508.6 599,508.8 599.3,508.9 599.6,508.8 599.9,508.7 600.1,508.4 600.4,508 600.7,507.6 600.9,507.1 601.2,506.7 601.5,506.4 601.7,506.2 602,506.2 602.3,506.4 602.6,506.7 602.8,507.2 603.1,507.8 603.4,508.5 603.6,509.2 603.9,509.9 604.2,510.5 604.4,511 604.7,511.3 605,511.4 605.3,511.3 605.5,511 605.8,510.5 606.1,509.8 606.3,509 606.6,508.2 606.9,507.3 607.1,506.6 607.4,505.9 607.7,505.4 608,505.1 608.2,505 608.5,505.2 608.8,505.5 609,506.1 609.3,506.8 609.6,507.7 609.8,508.5 610.1,509.2 610.4,509.9 610.7,510.3 610.9,510.4 611.2,510.3 611.5,510 611.7,509.4 612,508.7 612.3,507.9 612.5,507.1 612.8,506.3 613.1,505.5 613.4,504.9 613.6,504.3 613.9,504 614.2,503.8 614.4,503.7 614.7,503.9 615,504.2 615.2,504.6 615.5,505.2 615.8,505.9 616.1,506.7 616.3,507.6 616.6,508.5 616.9,509.4 617.1,510.3 617.4,511.2 617.7,512 617.9,512.7 618.2,513.2 618.5,513.5 618.8,513.6 619,513.5 619.3,513.1 619.6,512.6 619.8,512.1 620.1,511.5 620.4,511.1 620.6,510.9 620.9,510.7 621.2,510.7 621.5,510.7 621.7,510.4 622,509.9 622.3,508.9 622.5,507.4 622.8,505.6 623.1,503.6 623.3,501.6 623.6,499.8 623.9,498.5 624.2,497.9 624.4,498.1 624.7,498.9 625,500.1 625.2,501.6 625.5,503 625.8,504.2 626,504.9 626.3,505.1 626.6,505 626.9,504.7 627.1,504.5 627.4,504.6 627.7,505.1 627.9,506.2 628.2,507.9 628.5,509.8 628.7,511.9 629,513.8 629.3,515.4 629.6,516.6 629.8,517.2 630.1,517.3 630.4,517.1 630.6,516.7 630.9,516.2 631.2,515.6 631.4,515.1 631.7,514.5 632,513.7 632.3,512.7 632.5,511.4 632.8,509.9 633.1,508.1 633.3,506.3 633.6,504.5 633.9,502.8 634.1,501.2 634.4,499.9 634.7,498.7 635,497.9 635.2,497.5 635.5,497.4 635.8,497.7 636,498.3 636.3,499.2 636.6,500.4 636.8,501.6 637.1,503 637.4,504.3 637.7,505.6 637.9,506.9 638.2,508 638.5,509.1 638.7,510 639,510.8 639.3,511.6 639.5,512.2 639.8,512.7 640.1,513.2 640.4,513.6 640.6,513.8 640.9,514.1 641.2,514.3 641.4,514.4 641.7,514.2 642,513.9 642.2,513.3 642.5,512.6 642.8,511.8 643.1,511 643.3,510.2 643.6,509.4 643.9,508.6 644.1,507.8 644.4,506.9 644.7,505.9 644.9,504.7 645.2,503.4 645.5,502 645.8,500.7 646,499.5 646.3,498.6 646.6,498 646.8,497.8 647.1,497.9 647.4,498.4 647.6,499.1 647.9,500 648.2,501.1 648.5,502.2 648.7,503.5 649,504.9 649.3,506.4 649.5,508.1 649.8,509.8 650.1,511.6 650.3,513.4 650.6,515.1 650.9,516.7 651.2,518 651.4,519.1 651.7,519.7 652,519.9 652.2,519.7 652.5,518.9 652.8,517.7 653,516 653.3,514 653.6,511.7 653.9,509.4 654.1,507.2 654.4,505.2 654.7,503.4 654.9,502 655.2,500.9 655.5,500.1 655.7,499.3 656,498.6 656.3,497.9 656.6,497.2 656.8,496.6 657.1,496.2 657.4,496.1 657.6,496.6 657.9,497.5 658.2,499 658.4,500.8 658.7,502.6 659,504.5 659.3,506 659.5,507.3 659.8,508.3 660.1,509 660.3,509.6 660.6,510.4 660.9,511.4 661.1,512.8 661.4,514.6 661.7,516.7 662,518.8 662.2,520.7 662.5,522.1 662.8,522.6 663,522.2 663.3,520.6 663.6,518.1 663.8,515 664.1,511.9 664.4,509 664.7,506.7 664.9,505 665.2,503.7 665.5,502.7 665.7,501.9 666,500.8 666.3,499.5 666.5,498 666.8,496.4 667.1,495 667.4,494.2 667.6,493.8 667.9,493.8 668.2,494.3 668.4,495.2 668.7,496.5 669,498.3 669.2,500.4 669.5,502.8 669.8,505.4 670.1,508 670.3,510.7 670.6,513.1 670.9,515.3 671.1,517.2 671.4,518.8 671.7,519.9 671.9,520.6 672.2,520.9 672.5,520.7 672.8,520.1 673,519.2 673.3,517.8 673.6,516.1 673.8,514.1 674.1,512.1 674.4,510.1 674.6,507.9 674.9,505.5 675.2,502.6 675.5,499.2 675.7,495.5 676,491.9 676.3,488.7 676.5,486.4 676.8,485.4 677.1,486.1 677.3,488.5 677.6,492.4 677.9,497.1 678.2,502.2 678.4,507.1 678.7,511.4 679,514.9 679.2,517.5 679.5,519.3 679.8,520.2 680,520.6 680.3,520.6 680.6,520.3 680.9,519.8 681.1,519.1 681.4,518.2 681.7,516.9 681.9,515.3 682.2,513.2 682.5,510.7 682.7,507.9 683,504.8 683.3,501.8 683.5,499 683.8,496.5 684.1,494.6 684.4,493.3 684.6,492.5 684.9,492.3 685.2,492.7 685.4,493.7 685.7,495.3 686,497.4 686.2,500 686.5,502.9 686.8,505.9 687.1,508.9 687.3,511.8 687.6,514.4 687.9,516.7 688.1,518.6 688.4,519.9 688.7,520.8 688.9,521 689.2,520.6 689.5,519.6 689.8,518.1 690,516.1 690.3,513.6 690.6,510.9 690.8,507.9 691.1,504.8 691.4,501.8 691.6,499 691.9,496.5 692.2,494.5 692.5,493 692.7,492.2 693,492.1 693.3,492.8 693.5,494.3 693.8,496.4 694.1,499.3 694.3,502.7 694.6,506.6 694.9,510.5 695.2,514.3 695.4,517.8 695.7,520.5 696,522.4 696.2,523.2 696.5,522.9 696.8,521.4 697,518.8 697.3,515.3 697.6,511.1 697.9,506.5 698.1,501.9 698.4,497.6 698.7,493.9 698.9,491 699.2,489.2 699.5,488.5 699.7,489.1 700,490.8 700.3,493.6 700.6,497.3 700.8,501.5 701.1,506 701.4,510.5 701.6,514.8 701.9,518.6 702.2,521.6 702.4,523.8 702.7,524.8 703,524.7 703.3,523.4 703.5,521 703.8,517.6 704.1,513.6 704.3,509 704.6,504.3 704.9,499.9 705.1,495.9 705.4,492.8 705.7,490.6 706,489.6 706.2,489.7 706.5,491 706.8,493.3 707,496.5 707.3,500.4 707.6,504.5 707.8,508.8 708.1,512.7 708.4,516.1 708.7,518.7 708.9,520.3 709.2,520.8 709.5,520.2 709.7,518.5 710,515.9 710.3,512.6 710.5,508.8 710.8,504.9 711.1,501.3 711.4,498.2 711.6,495.9 711.9,494.5 712.2,494.2 712.4,494.8 712.7,496.4 713,498.6 713.2,501.4 713.5,504.3 713.8,507.3 714.1,510 714.3,512.4 714.6,514.2 714.9,515.4 715.1,516.1 715.4,516.2 715.7,515.9 715.9,515.1 716.2,513.9 716.5,512.5 716.8,510.8 717,509 717.3,507.1 717.6,505.3 717.8,503.6 718.1,502.2 718.4,501 718.6,500.2 718.9,499.7 719.2,499.6 719.5,500 719.7,500.7 720,501.8 720.3,502.9 720.5,504.4 720.8,506 721.1,507.8 721.3,509.5 721.6,511 721.9,512.2 722.2,513.1 722.4,513.5 722.7,513.4 723,512.7 723.2,511.6 723.5,510.1 723.8,508.2 724,506 724.3,503.7 724.6,501.4 724.9,499.2 725.1,497.4 725.4,495.9 725.7,495.2 725.9,495.1 726.2,495.9 726.5,497.5 726.7,499.9 727,503 727.3,506.5 727.6,510.1 727.8,513.7 728.1,516.8 728.4,519.4 728.6,521.2 728.9,522.1 729.2,521.9 729.4,520.8 729.7,518.7 730,515.9 730.3,512.4 730.5,508.6 730.8,504.7 731.1,500.9 731.3,497.6 731.6,495 731.9,493.3 732.1,492.6 732.4,493 732.7,494.4 733,496.6 733.2,499.5 733.5,502.8 733.8,506.2 734,509.5 734.3,512.4 734.6,514.9 734.8,516.8 735.1,518 735.4,518.3 735.7,517.9 735.9,516.7 736.2,514.7 736.5,512 736.7,508.6 737,504.9 737.3,501.1 737.5,497.3 737.8,494.1 738.1,491.6 738.4,490 738.6,489.4 738.9,490 739.2,491.6 739.4,494.4 739.7,498 740,502.3 740.2,507.1 740.5,511.9 740.8,516.6 741.1,520.8 741.3,524.2 741.6,526.5 741.9,527.6 742.1,527.5 742.4,526 742.7,523.4 742.9,519.6 743.2,514.8 743.5,509.5 743.8,504 744,498.8 744.3,494.2 744.6,490.5 744.8,488 745.1,486.9 745.4,487.1 745.6,488.6 745.9,491 746.2,494.3 746.5,498.2 746.7,502.5 747,507.1 747.3,511.7 747.5,516.1 747.8,519.9 748.1,522.9 748.3,524.8 748.6,525.4 748.9,524.6 749.2,522.3 749.4,518.9 749.7,514.5 750,509.6 750.2,504.5 750.5,499.7 750.8,495.5 751,492.2 751.3,490.1 751.6,489 751.9,489.1 752.1,490 752.4,491.8 752.7,494.2 752.9,497.1 753.2,500.4 753.5,503.9 753.7,507.8 754,511.8 754.3,515.8 754.6,519.4 754.8,522.3 755.1,524.3 755.4,525 755.6,524.5 755.9,522.6 756.2,519.5 756.4,515.5 756.7,511.1 757,506.4 757.3,502 757.5,498.1 757.8,494.9 758.1,492.5 758.3,491.2 758.6,490.9 758.9,491.7 759.1,493.5 759.4,496.2 759.7,499.5 760,503.3 760.2,507.3 760.5,511.3 760.8,515 761,518.3 761.3,520.8 761.6,522.4 761.8,522.9 762.1,522.4 762.4,520.7 762.7,518 762.9,514.5 763.2,510.3 763.5,505.7 763.7,501.1 764,496.6 764.3,492.8 764.5,489.8 764.8,487.8 765.1,487.1 765.4,487.6 765.6,489.4 765.9,492.3 766.2,496.3 766.4,501 766.7,506 767,511.2 767.2,515.9 767.5,520 767.8,523 768.1,524.9 768.3,525.5 768.6,524.8 768.9,523 769.1,520 769.4,516.2 769.7,511.8 769.9,507 770.2,502.1 770.5,497.5 770.8,493.5 771,490.3 771.3,488.3 771.6,487.7 771.8,488.6 772.1,490.9 772.4,494.6 772.6,499.3 772.9,504.6 773.2,510.2 773.5,515.4 773.7,520 774,523.4 774.3,525.5 774.5,526.2 774.8,525.5 775.1,523.5 775.3,520.4 775.6,516.5 775.9,512 776.2,507.3 776.4,502.5 776.7,498 777,494.1 777.2,490.8 777.5,488.5 777.8,487.3 778,487.4 778.3,488.6 778.6,491.2 778.9,494.7 779.1,498.9 779.4,503.6 779.7,508.4 779.9,513.1 780.2,517.1 780.5,520.4 780.7,522.6 781,523.7 781.3,523.5 781.6,522.1 781.8,519.5 782.1,516.1 782.4,512.1 782.6,507.7 782.9,503.3 783.2,499.3 783.4,496 783.7,493.5 784,492.1 784.3,491.9 784.5,492.9 784.8,494.9 785.1,497.9 785.3,501.5 785.6,505.5 785.9,509.6 786.1,513.5 786.4,516.8 786.7,519.3 787,520.9 787.2,521.4 787.5,520.7 787.8,519 788,516.2 788.3,512.7 788.6,508.6 788.8,504.3 789.1,500 789.4,496.1 789.7,492.8 789.9,490.6 790.2,489.5 790.5,489.7 790.7,491.3 791,494.2 791.3,498.1 791.5,502.7 791.8,507.7 792.1,512.5 792.4,516.8 792.6,520.2 792.9,522.5 793.2,523.5 793.4,523.2 793.7,521.7 794,519.3 794.2,516 794.5,512.2 794.8,508.1 795.1,504 795.3,500 795.6,496.4 795.9,493.4 796.1,491.2 796.4,490.1 796.7,490.1 796.9,491.4 797.2,494 797.5,497.5 797.8,501.7 798,506.3 798.3,510.9 798.6,515.1 798.8,518.7 799.1,521.3 799.4,522.8 799.6,522.9 799.9,521.8 800.2,519.4 800.5,516.1 800.7,511.9 801,507.4 801.3,502.8 801.5,498.6 801.8,495.1 802.1,492.4 802.3,491 802.6,490.8 802.9,491.9 803.2,494.1 803.4,497.3 803.7,501.3 804,505.6 804.2,509.9 804.5,514 804.8,517.5 805,520 805.3,521.5 805.6,521.8 805.9,520.8 806.1,518.8 806.4,515.7 806.7,511.9 806.9,507.8 807.2,503.5 807.5,499.5 807.7,496.1 808,493.2 808.3,491.2 808.6,490.4 808.8,491.1 809.1,493.4 809.4,497.4 809.6,502.8 809.9,508.9 810.2,514.7 810.4,519.6 810.7,523 811,524.5 811.2,524 811.5,521.5 811.8,517.6 812.1,512.7 812.3,507.3 812.6,502.3 812.9,498 813.1,494.9 813.4,493.1 813.7,492.6 813.9,493.2 814.2,494.7 814.5,496.7 814.8,499 815,501.2 815.3,503.5 815.6,505.6 815.8,507.8 816.1,510 816.4,512.3 816.6,514.6 816.9,516.9 817.2,518.8 817.5,520.2 817.7,520.7 818,520 818.3,518.1 818.5,514.9 818.8,510.8 819.1,506.1 819.3,501.3 819.6,497 819.9,493.7 820.2,491.8 820.4,491.5 820.7,492.9 821,495.6 821.2,499.4 821.5,503.8 821.8,508.1 822,511.8 822.3,514.6 822.6,516.5 822.9,517.3 823.1,517.3 823.4,516.4 823.7,514.7 823.9,512.4 824.2,509.5 824.5,506.3 824.7,502.9 825,499.7 825.3,497 825.6,495.1 825.8,494.1 826.1,494.1 826.4,495 826.6,496.9 826.9,499.5 827.2,502.6 827.4,506 827.7,509.5 828,512.6 828.3,515.2 828.5,517 828.8,517.9 829.1,517.8 829.3,516.8 829.6,514.9 829.9,512.3 830.1,509.4 830.4,506.3 830.7,503.4 831,501.1 831.2,499.4 831.5,498.5 831.8,498.5 832,499.4 832.3,501.1 832.6,503.4 832.8,506.1 833.1,508.8 833.4,511.3 833.7,513.3 833.9,514.7 834.2,515.4 834.5,515.3 834.7,514.5 835,513.1 835.3,511.1 835.5,508.7 835.8,506 836.1,503.2 836.4,500.7 836.6,498.5 836.9,496.9 837.2,495.9 837.4,495.7 837.7,496.3 838,497.5 838.2,499.4 838.5,501.7 838.8,504.3 839.1,507 839.3,509.5 839.6,511.6 839.9,513.2 840.1,514.2 840.4,514.4 840.7,513.9 840.9,512.9 841.2,511.3 841.5,509.5 841.8,507.5 842,505.6 842.3,504 842.6,502.8 842.8,502 843.1,501.9 843.4,502.2 843.6,503.1 843.9,504.3 844.2,505.8 844.5,507.3 844.7,508.8 845,510 845.3,511 845.5,511.6 845.8,511.7 846.1,511.4 846.3,510.5 846.6,509.3 846.9,507.9 847.2,506.5 847.4,505.3 847.7,504.3 848,503.5 848.2,502.9 848.5,502.6 848.8,502.6 849,502.8 849.3,503.2 849.6,503.9 849.9,504.8 850.1,505.7 850.4,506.7 850.7,507.6 850.9,508.4 851.2,508.8 851.5,509 851.7,508.8 852,508.4 852.3,507.8 852.6,507.1 852.8,506.3 853.1,505.5 853.4,504.8 853.6,504.2 853.9,503.7 854.2,503.4 854.4,503.3 854.7,503.5 855,503.9 855.3,504.6 855.5,505.6 855.8,506.6 856.1,507.7 856.3,508.7 856.6,509.6 856.9,510.3 857.1,510.7 857.4,510.9 857.7,510.7 858,510.3 858.2,509.6 858.5,508.7 858.8,507.6 859,506.5 859.3,505.5 859.6,504.5 859.8,503.8 860.1,503.3 860.4,503 860.7,503 860.9,503.3 861.2,503.7 861.5,504.3 861.7,505 862,505.8 862.3,506.5 862.5,507.1 862.8,507.5 863.1,507.6 863.4,507.6 863.6,507.3 863.9,507.1 864.2,507 864.4,507 864.7,507.2 865,507.6 865.2,508.1 865.5,508.6 865.8,508.9 866.1,508.9 866.3,508.5 866.6,507.8 866.9,506.7 867.1,505.5 867.4,504.3 867.7,503.2 867.9,502.5 868.2,502.1 868.5,502.2 868.8,502.7 869,503.6 869.3,504.8 869.6,506.2 869.8,507.7 870.1,509.1 870.4,510.3 870.6,511.3 870.9,511.9 871.2,512 871.5,511.5 871.7,510.6 872,509.2 872.3,507.4 872.5,505.4 872.8,503.5 873.1,501.8 873.3,500.6 873.6,500.1 873.9,500.2 874.2,501 874.4,502.4 874.7,504.1 875,505.8 875.2,507.5 875.5,508.8 875.8,509.6 876,509.9 876.3,509.7 876.6,509 876.9,508.2 877.1,507.2 877.4,506.3 877.7,505.7 877.9,505.4 878.2,505.5 878.5,505.9 878.7,506.6 879,507.4 879.3,508.3 879.6,509.1 879.8,509.7 880.1,509.9 880.4,509.8 880.6,509.4 880.9,508.6 881.2,507.6 881.4,506.6 881.7,505.6 882,504.7 882.3,504.1 882.5,503.8 882.8,503.7 883.1,503.9 883.3,504.2 883.6,504.5 883.9,504.8 884.1,505.1 884.4,505.1 884.7,505.1 885,505 885.2,504.9 885.5,504.8 885.8,504.8 886,504.9 886.3,505.2 886.6,505.7 886.8,506.2 887.1,506.7 887.4,507.2 887.7,507.7 887.9,508.1 888.2,508.5 888.5,508.8 888.7,509 889,509.1 889.3,509.2 889.5,509.2 889.8,509.2 890.1,509 890.4,508.7 890.6,508.2 890.9,507.6 891.2,506.9 891.4,506.1 891.7,505.2 892,504.4 892.2,503.6 892.5,503.1 892.8,502.7 893.1,502.7 893.3,503.1 893.6,503.7 893.9,504.6 894.1,505.6 894.4,506.7 894.7,507.7 894.9,508.6 895.2,509 895.5,509.2 895.8,508.9 896,508.4 896.3,507.7 896.6,507 896.8,506.3 897.1,505.9 897.4,505.8 897.6,505.9 897.9,506.3 898.2,506.8 898.5,507.3 898.7,507.6 899,507.6 899.3,507.3 899.5,506.6 899.8,505.8 900.1,504.9 900.3,504.1 900.6,503.5 900.9,503.4 901.2,503.6 901.4,504.2 901.7,505.1 902,506.1 902.2,507.1 902.5,507.8 902.8,508.3 903,508.5 903.3,508.3 903.6,507.9 903.9,507.3 904.1,506.8 904.4,506.4 904.7,506.1 904.9,506.1 905.2,506.2 905.5,506.4 905.7,506.7 906,506.9 906.3,507.1 906.6,507.1 906.8,507.2 907.1,507.2 907.4,507.2 907.6,507.1 907.9,507 908.2,506.9 908.4,506.7 908.7,506.5 909,506.3 909.3,506.1 909.5,505.9 909.8,505.7 910.1,505.6 910.3,505.5 910.6,505.4 910.9,505.4 911.1,505.4 911.4,505.5 911.7,505.6 912,505.7 912.2,505.9 912.5,506.1 912.8,506.4 913,506.6 913.3,506.8 913.6,506.9 913.8,507 914.1,507 914.4,506.9 914.7,506.8 914.9,506.5 915.2,506.3 915.5,506.1 915.7,505.9 916,505.8 916.3,505.8 916.5,506 916.8,506.2 917.1,506.4 917.4,506.8 917.6,507.4 917.9,508.1 918.2,508.7 918.4,509.2 918.7,509.5 919,509.4 919.2,508.9 919.5,508.2 919.8,507.2 920.1,506.2 920.3,505.3 920.6,504.5 920.9,504.1 921.1,503.8 921.4,503.8 921.7,503.9 921.9,504.1 922.2,504.3 922.5,504.4 922.8,504.4 923,504.5 923.3,504.7 923.6,505 923.8,505.5 924.1,506.2 924.4,507.1 924.6,508 924.9,508.9 925.2,509.6 925.5,509.9 925.7,510 926,509.6 926.3,509 926.5,508.1 926.8,507.2 927.1,506.3 927.3,505.5 927.6,505.1 927.9,504.9 928.2,504.9 928.4,505.2 928.7,505.5 929,505.9 929.2,506.1 929.5,506.2 929.8,506.2 930,506 930.3,505.7 930.6,505.5 930.9,505.3 931.1,505.3 931.4,505.4 931.7,505.7 931.9,506 932.2,506.5 932.5,506.9 932.7,507.3 933,507.4 933.3,507.5 933.6,507.3 933.8,507.1 934.1,506.9 934.4,506.7 934.6,506.6 934.9,506.6 935.2,506.8 935.4,507.1 935.7,507.4 936,507.7 936.3,507.9 936.5,507.9 936.8,507.7 937.1,507.3 937.3,506.8 937.6,506.2 937.9,505.7 938.1,505.2 938.4,504.8 938.7,504.5 939,504.4 939.2,504.4 939.5,504.5 939.8,504.6 940,504.8 940.3,505 940.6,505.2 940.8,505.5 941.1,505.8 941.4,506.1 941.6,506.5 941.9,506.9 942.2,507.2 942.5,507.6 942.7,507.9 943,508.1 943.3,508.2 943.5,508.2 943.8,508.1 944.1,507.9 944.3,507.7 944.6,507.3 944.9,506.8 945.2,506.2 945.4,505.7 945.7,505.2 946,504.8 946.2,504.6 946.5,504.7 946.8,505 947,505.6 947.3,506.4 947.6,507.3 947.9,508.1 948.1,508.6 948.4,508.8 948.7,508.6 948.9,508 949.2,507.1 949.5,506.1 949.7,505.2 950,504.5 950.3,504.3 950.6,504.5 950.8,505.3 951.1,506.3 951.4,507.5 951.6,508.5 951.9,509.2 952.2,509.3 952.4,508.8 952.7,507.8 953,506.3 953.3,504.7 953.5,503.3 953.8,502.3 954.1,501.9 954.3,502.1 954.6,503.1 954.9,504.5 955.1,506.1 955.4,507.7 955.7,509 956,509.7 956.2,509.8 956.5,509.3 956.8,508.3 957,506.9 957.3,505.5 957.6,504.1 957.8,503.1 958.1,502.4 958.4,502.3 958.7,502.6 958.9,503.2 959.2,504.1 959.5,505.2 959.7,506.2 960,507.1 960.3,507.9 960.5,508.6 960.8,509.1 961.1,509.5 961.4,509.9 961.6,510.2 961.9,510.5 962.2,510.8 962.4,511 962.7,511 963,510.9 963.2,510.6 963.5,509.9 963.8,509 964.1,507.9 964.3,506.5 964.6,505.1 964.9,503.7 965.1,502.6 965.4,501.7 965.7,501.3 965.9,501.4 966.2,501.8 966.5,502.6 966.8,503.5 967,504.4 967.3,505.1 967.6,505.5 967.8,505.6 968.1,505.4 968.4,504.9 968.6,504.5 968.9,504.1 969.2,504 969.5,504.2 969.7,504.8 970,505.6 970.3,506.7 970.5,507.7 970.8,508.6 971.1,509.1 971.3,509.2 971.6,509 971.9,508.4 972.2,507.6 972.4,506.9 972.7,506.3 973,506.1 973.2,506.2 973.5,506.6 973.8,507.3 974,508.2 974.3,508.9 974.6,509.4 974.9,509.7 975.1,509.5 975.4,509.1 975.7,508.4 975.9,507.6 976.2,506.9 976.5,506.3 976.7,505.9 977,505.8 977.3,505.9 977.6,506.1 977.8,506.2 978.1,506.4 978.4,506.3 978.6,506 978.9,505.5 979.2,504.9 979.4,504.3 979.7,503.7 980,503.3 980.3,503 980.5,503 980.8,503.2 981.1,503.5 981.3,504 981.6,504.6 981.9,505.3 982.1,506 982.4,506.6 982.7,507.2 983,507.7 983.2,508.1 983.5,508.2 983.8,508.2 984,508.1 984.3,507.8 984.6,507.5 984.8,507.1 985.1,506.7 985.4,506.4 985.7,506.2 985.9,506.1 986.2,506 986.5,506.1 986.7,506.3 987,506.5 987.3,506.8 987.5,507.1 987.8,507.3 988.1,507.5 988.4,507.5 988.6,507.5 988.9,507.4 989.2,507.2 989.4,506.9 989.7,506.6 990,506.2 990.2,505.8 990.5,505.4 990.8,505 991.1,504.7 991.3,504.5 991.6,504.5 991.9,504.6 992.1,504.9 992.4,505.3 992.7,505.9 992.9,506.6 993.2,507.4 993.5,507.9 993.8,508.5 994,509.2 994.3,509.9 994.6,510.6 994.8,511.1 995.1,511.2 995.4,511 995.6,510.1 995.9,508.8 996.2,507 996.5,504.9 996.7,502.8 997,501 997.3,499.7 997.5,499 997.8,499 998.1,499.7 998.3,500.8 998.6,502.3 998.9,503.8 999.2,505.2 999.4,506.4 999.7,507.2 1000,507.8 1000.2,508.2 1000.5,508.6 1000.8,508.9 1001,509.2 1001.3,509.5 1001.6,509.8 1001.9,510 1002.1,509.9 1002.4,509.5 1002.7,508.9 1002.9,508.1 1003.2,507.1 1003.5,506.2 1003.7,505.4 1004,504.9 1004.3,504.7 1004.6,504.8 1004.8,505.2 1005.1,505.7 1005.4,506.2 1005.6,506.7 1005.9,507 1006.2,507.2 1006.4,507.2 1006.7,507.2 1007,507.1 1007.3,506.8 1007.5,506.5 1007.8,506.2 1008.1,505.9 1008.3,505.6 1008.6,505.4 1008.9,505.3 1009.1,505.2 1009.4,505.3 1009.7,505.4 1010,505.6 1010.2,505.8 1010.5,506 1010.8,506.2 1011,506.3 1011.3,506.4 1011.6,506.3 1011.8,506.1 1012.1,505.8 1012.4,505.3 1012.7,504.9 1012.9,504.6 1013.2,504.5 1013.5,504.8 1013.7,505.4 1014,506.3 1014.3,507.3 1014.5,508.3 1014.8,509.1 1015.1,509.4 1015.4,509.3 1015.6,508.6 1015.9,507.4 1016.2,506 1016.4,504.5 1016.7,503.3 1017,502.5 1017.2,502.4 1017.5,502.9 1017.8,504.1 1018.1,505.7 1018.3,507.5 1018.6,509.1 1018.9,510.4 1019.1,511.2 1019.4,511.2 1019.7,510.7 1019.9,509.7 1020.2,508.5 1020.5,507.3 1020.8,506.3 1021,505.6 1021.3,505.4 1021.6,505.5 1021.8,505.7 1022.1,506.1 1022.4,506.3 1022.6,506.2 1022.9,505.9 1023.2,505.4 1023.5,504.8 1023.7,504.1 1024,503.6 1024.3,503.2 1024.5,503.1 1024.8,503.1 1025.1,503.3 1025.3,503.7 1025.6,504.3 1025.9,505 1026.2,505.7 1026.4,506.5 1026.7,507.2 1027,507.7 1027.2,508.2 1027.5,508.5 1027.8,508.6 1028,508.6 1028.3,508.4 1028.6,508.2 1028.9,507.8 1029.1,507.5 1029.4,507.1 1029.7,506.8 1029.9,506.5 1030.2,506.2 1030.5,506.1 1030.7,506 1031,506.1 1031.3,506.2 1031.6,506.3 1031.8,506.3 1032.1,506.3 1032.4,506.3 1032.6,506.5 1032.9,506.8 1033.2,507.2 1033.4,507.6 1033.7,508 1034,508.2 1034.3,508.1 1034.5,507.5 1034.8,506.6 1035.1,505.5 1035.3,504.3 1035.6,503.3 1035.9,502.7 1036.1,502.6 1036.4,503 1036.7,503.9 1037,505.1 1037.2,506.3 1037.5,507.3 1037.8,508 1038,508.1 1038.3,507.8 1038.6,507.2 1038.8,506.3 1039.1,505.4 1039.4,504.7 1039.7,504.3 1039.9,504.2 1040.2,504.5 1040.5,504.9 1040.7,505.5 1041,506.1 1041.3,506.6 1041.5,506.9 1041.8,507.2 1042.1,507.3 1042.4,507.4 1042.6,507.5 1042.9,507.6 1043.2,507.9 1043.4,508.2 1043.7,508.6 1044,509.1 1044.2,509.6 1044.5,510 1044.8,510.3 1045.1,510.3 1045.3,509.9 1045.6,509 1045.9,507.6 1046.1,505.7 1046.4,503.6 1046.7,501.4 1046.9,499.5 1047.2,498.2 1047.5,497.8 1047.8,498.5 1048,500.3 1048.3,502.7 1048.6,505.3 1048.8,507.8 1049.1,510 1049.4,511.5 1049.6,512.2 1049.9,512.2 1050.2,511.6 1050.5,510.6 1050.7,509.3 1051,507.9 1051.3,506.6 1051.5,505.5 1051.8,504.5 1052.1,503.8 1052.3,503.2 1052.6,502.7 1052.9,502.4 1053.2,502.2 1053.4,502.2 1053.7,502.6 1054,503.2 1054.2,504.2 1054.5,505.5 1054.8,507 1055,508.6 1055.3,510 1055.6,511 1055.9,511.5 1056.1,511.4 1056.4,510.7 1056.7,509.4 1056.9,507.8 1057.2,506.3 1057.5,505.2 1057.7,504.6 1058,504.4 1058.3,504.5 1058.6,504.8 1058.8,505 1059.1,505.2 1059.4,505.2 1059.6,505.4 1059.9,505.6 1060.2,505.9 1060.4,506.2 1060.7,506.5 1061,506.8 1061.3,507 1061.5,507.2 1061.8,507.4 1062.1,507.4 1062.3,507.5 1062.6,507.4 1062.9,507.4 1063.1,507.3 1063.4,507.1 1063.7,506.9 1064,506.7 1064.2,506.5 1064.5,506.2 1064.8,506 1065,505.8 1065.3,505.6 1065.6,505.4 1065.8,505.2 1066.1,505.1 1066.4,505 1066.7,504.9 1066.9,504.9 1067.2,504.9 1067.5,505 1067.7,505.1 1068,505.3 1068.3,505.4 1068.5,505.6 1068.8,505.7 1069.1,505.9 1069.4,506 1069.6,506.1 1069.9,506.3 1070.2,506.3 1070.4,506.1 1070.7,505.7 1071,505.3 1071.2,505 1071.5,504.9 1071.8,505 1072,505.3 1072.3,505.9 1072.6,506.7 1072.9,507.5 1073.1,508.2 1073.4,508.8 1073.7,509.1 1073.9,509 1074.2,508.8 1074.5,508.4 1074.7,507.8 1075,507.4 1075.3,507 1075.6,506.7 1075.8,506.7 1076.1,506.8 1076.4,506.9 1076.6,507.1 1076.9,507.3 1077.2,507.3 1077.4,507.3 1077.7,507.2 1078,507 1078.3,506.7 1078.5,506.4 1078.8,506.2 1079.1,505.9 1079.3,505.7 1079.6,505.5 1079.9,505.4 1080.1,505.2 1080.4,505.1 1080.7,505 1081,504.9 1081.2,504.8 1081.5,504.6 1081.8,504.5 1082,504.3 1082.3,504.2 1082.6,504.1 1082.8,504 1083.1,504.1 1083.4,504.3 1083.7,504.5 1083.9,504.8 1084.2,505.1 1084.5,505.5 1084.7,505.7 1085,505.9 1085.3,506.1 1085.5,506.2 1085.8,506.3 1086.1,506.5 1086.4,506.8 1086.6,507.2 1086.9,507.7 1087.2,508.2 1087.4,508.8 1087.7,509.3 1088,509.6 1088.2,509.7 1088.5,509.5 1088.8,509.2 1089.1,508.8 1089.3,508.2 1089.6,507.7 1089.9,507.3 1090.1,506.9 1090.4,506.8 1090.7,506.7 1090.9,506.6 1091.2,506.6 1091.5,506.6 1091.8,506.5 1092,506.2 1092.3,506 1092.6,505.6 1092.8,505.3 1093.1,505 1093.4,504.7 1093.6,504.5 1093.9,504.4 1094.2,504.4 1094.5,504.4 1094.7,504.5 1095,504.6 1095.3,504.7 1095.5,505 1095.8,505.2 1096.1,505.5 1096.3,505.9 1096.6,506.3 1096.9,506.6 1097.2,506.9 1097.4,507.2 1097.7,507.3 1098,507.3 1098.2,507.2 1098.5,506.9 1098.8,506.5 1099,506 1099.3,505.4 1099.6,504.9 1099.9,504.3 1100.1,503.9 1100.4,503.6 1100.7,503.5 1100.9,503.6 1101.2,503.9 1101.5,504.4 1101.7,505.2 1102,506.1 1102.3,507.1 1102.6,508.1 1102.8,509 1103.1,509.7 1103.4,510.1 1103.6,510.3 1103.9,510.1 1104.2,509.7 1104.4,509.2 1104.7,508.5 1105,507.9 1105.3,507.3 1105.5,506.9 1105.8,506.6 1106.1,506.4 1106.3,506.4 1106.6,506.4 1106.9,506.4 1107.1,506.4 1107.4,506.2 1107.7,506 1108,505.7 1108.2,505.4 1108.5,505.1 1108.8,504.9 1109,504.9 1109.3,505 1109.6,505.3 1109.8,505.6 1110.1,506 1110.4,506.4 1110.7,506.7 1110.9,506.8 1111.2,506.8 1111.5,506.5 1111.7,506.1 1112,505.6 1112.3,505 1112.5,504.4 1112.8,504 1113.1,503.7 1113.4,503.5 1113.6,503.5 1113.9,503.6 1114.2,503.9 1114.4,504.2 1114.7,504.6 1115,505 1115.2,505.4 1115.5,505.8 1115.8,506.1 1116.1,506.4 1116.3,506.7 1116.6,506.9 1116.9,507.1 1117.1,507.3 1117.4,507.6 1117.7,507.8 1117.9,508.1 1118.2,508.4 1118.5,508.7 1118.8,509 1119,509.2 1119.3,509.4 1119.6,509.4 1119.8,509.4 1120.1,509.3 1120.4,509 1120.6,508.6 1120.9,508.1 1121.2,507.5 1121.5,506.9 1121.7,506.3 1122,505.6 1122.3,505 1122.5,504.6 1122.8,504.2 1123.1,504 1123.3,503.9 1123.6,503.9 1123.9,504.1 1124.2,504.4 1124.4,504.8 1124.7,505.2 1125,505.6 1125.2,506 1125.5,506.3 1125.8,506.4 1126,506.5 1126.3,506.4 1126.6,506.1 1126.9,505.8 1127.1,505.5 1127.4,505.1 1127.7,504.7 1127.9,504.4 1128.2,504.2 1128.5,504.1 1128.7,504.1 1129,504.3 1129.3,504.6 1129.6,504.9 1129.8,505.4 1130.1,505.9 1130.4,506.4 1130.6,507 1130.9,507.5 1131.2,507.9 1131.4,508.3 1131.7,508.6 1132,508.7 1132.3,508.8 1132.5,508.7 1132.8,508.5 1133.1,508.2 1133.3,507.9 1133.6,507.6 1133.9,507.2 1134.1,506.8 1134.4,506.4 1134.7,505.9 1135,505.5 1135.2,505.1 1135.5,505 1135.8,505 1136,505.4 1136.3,506 1136.6,506.9 1136.8,507.7 1137.1,508.4 1137.4,508.8 1137.7,508.7 1137.9,508.1 1138.2,507 1138.5,505.6 1138.7,504.1 1139,502.8 1139.3,502.1 1139.5,501.9 1139.8,502.3 1140.1,503.2 1140.4,504.5 1140.6,505.9 1140.9,507.2 1141.2,508.2 1141.4,508.9 1141.7,509 1142,508.7 1142.2,508 1142.5,507.2 1142.8,506.2 1143.1,505.4 1143.3,504.8 1143.6,504.5 1143.9,504.4 1144.1,504.5 1144.4,504.9 1144.7,505.2 1144.9,505.6 1145.2,505.9 1145.5,506.1 1145.8,506.3 1146,506.4 1146.3,506.6 1146.6,506.8 1146.8,507.1 1147.1,507.3 1147.4,507.6 1147.6,507.8 1147.9,507.8 1148.2,507.5 1148.5,507.1 1148.7,506.5 1149,505.7 1149.3,505 1149.5,504.3 1149.8,503.8 1150.1,503.7 1150.3,503.8 1150.6,504.3 1150.9,505 1151.2,505.8 1151.4,506.6 1151.7,507.4 1152,508 1152.2,508.3 1152.5,508.4 1152.8,508.5 1153,508.5 1153.3,508.5 1153.6,508.6 1153.9,508.7 1154.1,508.7 1154.4,508.6 1154.7,508.3 1154.9,507.8 1155.2,507.1 1155.5,506.2 1155.7,505.2 1156,504.3 1156.3,503.5 1156.6,503 1156.8,502.8 1157.1,502.8 1157.4,503.1 1157.6,503.5 1157.9,504 1158.2,504.7 1158.4,505.3 1158.7,506 1159,506.6 1159.3,507.2 1159.5,507.5 1159.8,507.8 1160.1,507.8 1160.3,507.8 1160.6,507.6 1160.9,507.3 1161.1,507.1 1161.4,506.8 1161.7,506.6 1162,506.4 1162.2,506.3 1162.5,506.2 1162.8,506.1 1163,506.1 1163.3,506 1163.6,505.9 1163.8,505.7 1164.1,505.6 1164.4,505.4 1164.7,505.1 1164.9,504.8 1165.2,504.5 1165.5,504.3 1165.7,504.3 1166,504.5 1166.3,504.8 1166.5,505.2 1166.8,505.7 1167.1,506 1167.4,506.3 1167.6,506.5 1167.9,506.5 1168.2,506.6 1168.4,506.7 1168.7,507 1169,507.4 1169.2,508.1 1169.5,508.9 1169.8,509.7 1170.1,510.5 1170.3,511 1170.6,511.1 1170.9,510.9 1171.1,510.3 1171.4,509.3 1171.7,508.1 1171.9,506.8 1172.2,505.5 1172.5,504.5 1172.8,503.6 1173,503.1 1173.3,502.8 1173.6,502.6 1173.8,502.6 1174.1,502.7 1174.4,502.9 1174.6,503.1 1174.9,503.4 1175.2,503.8 1175.5,504.2 1175.7,504.6 1176,504.9 1176.3,505.3 1176.5,505.6 1176.8,505.9 1177.1,506.2 1177.3,506.5 1177.6,506.7 1177.9,506.9 1178.2,507.1 1178.4,507.2 1178.7,507.4 1179,507.4 1179.2,507.5 1179.5,507.5 1179.8,507.4 1180,507.4 1180.3,507.2 1180.6,507 1180.9,506.8 1181.1,506.5 1181.4,506.1 1181.7,505.8 1181.9,505.5 1182.2,505.2 1182.5,505 1182.7,504.9 1183,505 1183.3,505.1 1183.6,505.5 1183.8,506 1184.1,506.5 1184.4,507.2 1184.6,507.9 1184.9,508.5 1185.2,509.1 1185.4,509.6 1185.7,509.9 1186,510 1186.3,509.9 1186.5,509.7 1186.8,509.2 1187.1,508.5 1187.3,507.8 1187.6,506.9 1187.9,505.9 1188.1,504.9 1188.4,503.9 1188.7,503 1189,502.3 1189.2,501.7 1189.5,501.2 1189.8,501.1 1190,501.1 1190.3,501.4 1190.6,502 1190.8,502.7 1191.1,503.6 1191.4,504.6 1191.7,505.6 1191.9,506.5 1192.2,507.3 1192.5,508.1 1192.7,508.7 1193,508.9 1193.3,508.8 1193.5,508.4 1193.8,507.8 1194.1,506.9 1194.4,506.1 1194.6,505.5 1194.9,505.2 1195.2,505.3 1195.4,505.8 1195.7,506.6 1196,507.6 1196.2,508.6 1196.5,509.4 1196.8,509.7 1197.1,509.5 1197.3,508.8 1197.6,507.7 1197.9,506.3 1198.1,505 1198.4,503.9 1198.7,503.2 1198.9,503.2 1199.2,503.8 1199.5,504.9 1199.8,506.2 1200,507.6 1200.3,508.7 1200.6,509.3 1200.8,509.2 1201.1,508.6 1201.4,507.6 1201.6,506.2 1201.9,505 1202.2,504.1 1202.4,503.7 1202.7,503.9 1203,504.8 1203.3,506 1203.5,507.2 1203.8,508.2 1204.1,508.8 1204.3,508.6 1204.6,507.8 1204.9,506.4 1205.1,504.5 1205.4,502.6 1205.7,500.9 1206,499.7 1206.2,499.2 1206.5,499.5 1206.8,500.7 1207,502.5 1207.3,504.8 1207.6,507.1 1207.8,509.2 1208.1,510.9 1208.4,511.9 1208.7,512.2 1208.9,511.9 1209.2,511.1 1209.5,509.9 1209.7,508.7 1210,507.6 1210.3,506.7 1210.5,506 1210.8,505.6 1211.1,505.5 1211.4,505.4 1211.6,505.5 1211.9,505.5 1212.2,505.4 1212.4,505.4 1212.7,505.3 1213,505.2 1213.2,505.1 1213.5,505.2 1213.8,505.4 1214.1,505.7 1214.3,506.1 1214.6,506.4 1214.9,506.7 1215.1,507 1215.4,507 1215.7,507 1215.9,506.8 1216.2,506.4 1216.5,506 1216.8,505.6 1217,505.2 1217.3,504.9 1217.6,504.7 1217.8,504.6 1218.1,504.5 1218.4,504.6 1218.6,504.8 1218.9,505 1219.2,505.3 1219.5,505.6 1219.7,506 1220,506.3 1220.3,506.7 1220.5,507.2 1220.8,507.6 1221.1,507.9 1221.3,508.2 1221.6,508.4 1221.9,508.5 1222.2,508.4 1222.4,508.2 1222.7,507.8 1223,507.3 1223.2,506.8 1223.5,506.1 1223.8,505.6 1224,505.1 1224.3,504.7 1224.6,504.6 1224.9,504.6 1225.1,504.8 1225.4,505.2 1225.7,505.6 1225.9,506.1 1226.2,506.5 1226.5,506.8 1226.7,506.9 1227,506.8 1227.3,506.5 1227.6,506.1 1227.8,505.6 1228.1,505.1 1228.4,504.6 1228.6,504.3 1228.9,504.1 1229.2,504 1229.4,504.2 1229.7,504.5 1230,504.9 1230.3,505.4 1230.5,506 1230.8,506.6 1231.1,507.2 1231.3,507.7 1231.6,508.1 1231.9,508.4 1232.1,508.5 1232.4,508.4 1232.7,508.1 1233,507.7 1233.2,507.1 1233.5,506.4 1233.8,505.7 1234,505 1234.3,504.5 1234.6,504.3 1234.8,504.3 1235.1,504.6 1235.4,505.2 1235.7,506 1235.9,507 1236.2,507.9 1236.5,508.7 1236.7,509.3 1237,509.5 1237.3,509.3 1237.5,508.7 1237.8,507.7 1238.1,506.6 1238.4,505.4 1238.6,504.3 1238.9,503.4 1239.2,502.8 1239.4,502.6 1239.7,502.8 1240,503.3 1240.2,504 1240.5,504.8 1240.8,505.7 1241.1,506.5 1241.3,507.1 1241.6,507.5 1241.9,507.8 1242.1,507.9 1242.4,507.9 1242.7,507.8 1242.9,507.7 1243.2,507.5 1243.5,507.3 1243.8,507 1244,506.6 1244.3,506.1 1244.6,505.5 1244.8,504.9 1245.1,504.4 1245.4,503.9 1245.6,503.5 1245.9,503.4 1246.2,503.5 1246.5,503.8 1246.7,504.3 1247,504.9 1247.3,505.4 1247.5,506 1247.8,506.4 1248.1,506.7 1248.3,506.9 1248.6,507 1248.9,507.1 1249.2,507.1 1249.4,507.2 1249.7,507.4 1250,507.7 1250.2,508 1250.5,508.3 1250.8,508.6 1251,508.8 1251.3,508.8 1251.6,508.7 1251.9,508.5 1252.1,508 1252.4,507.5 1252.7,506.9 1252.9,506.3 1253.2,505.7 1253.5,505.2 1253.7,504.8 1254,504.5 1254.3,504.4 1254.6,504.3 1254.8,504.4 1255.1,504.5 1255.4,504.7 1255.6,505 1255.9,505.2 1256.2,505.5 1256.4,505.7 1256.7,505.8 1257,505.9 1257.3,506 1257.5,506 1257.8,505.9 1258.1,505.9 1258.3,505.8 1258.6,505.6 1258.9,505.4 1259.1,505.2 1259.4,505 1259.7,504.8 1260,504.5 1260.2,504.4 1260.5,504.3 1260.8,504.4 1261,504.7 1261.3,505.2 1261.6,505.9 1261.8,506.7 1262.1,507.5 1262.4,508.3 1262.7,509 1262.9,509.4 1263.2,509.6 1263.5,509.3 1263.7,508.8 1264,507.9 1264.3,506.9 1264.5,505.8 1264.8,504.9 1265.1,504.1 1265.4,503.7 1265.6,503.7 1265.9,504.2 1266.2,505 1266.4,506.2 1266.7,507.6 1267,509.1 1267.2,510.3 1267.5,511.2 1267.8,511.6 1268.1,511.3 1268.3,510.4 1268.6,508.8 1268.9,506.7 1269.1,504.4 1269.4,502 1269.7,500 1269.9,498.6 1270.2,497.9 1270.5,498.2 1270.8,499.3 1271,501.1 1271.3,503.4 1271.6,505.9 1271.8,508.3 1272.1,510.3 1272.4,511.5 1272.6,512 1272.9,511.7 1273.2,510.8 1273.5,509.4 1273.7,507.9 1274,506.5 1274.3,505.3 1274.5,504.7 1274.8,504.5 1275.1,504.6 1275.3,505.1 1275.6,505.6 1275.9,505.9 1276.2,506 1276.4,505.8 1276.7,505.4 1277,504.7 1277.2,504.1 1277.5,503.5 1277.8,503.3 1278,503.3 1278.3,503.7 1278.6,504.4 1278.9,505.3 1279.1,506.1 1279.4,506.9 1279.7,507.5 1279.9,507.9 1280.2,508.2 1280.5,508.3 1280.7,508.3 1281,508.3 1281.3,508.2 1281.6,508 1281.8,507.7 1282.1,507.4 1282.4,507.1 1282.6,506.8 1282.9,506.5 1283.2,506.1 1283.4,505.8 1283.7,505.5 1284,505.2 1284.3,505 1284.5,504.9 1284.8,504.9 1285.1,505 1285.3,505.2 1285.6,505.6 1285.9,506.1 1286.1,506.6 1286.4,507.2 1286.7,507.7 1287,508.2 1287.2,508.6 1287.5,508.8 1287.8,508.8 1288,508.7 1288.3,508.4 1288.6,508 1288.8,507.4 1289.1,506.8 1289.4,506 1289.7,505.3 1289.9,504.6 1290.2,503.9 1290.5,503.2 1290.7,502.6 1291,502 1291.3,501.6 1291.5,501.4 1291.8,501.4 1292.1,501.4 1292.4,501.5 1292.6,501.7 1292.9,502 1293.2,502.5 1293.4,503.2 1293.7,504.1 1294,505.2 1294.2,506.4 1294.5,507.6 1294.8,508.7 1295.1,509.6 1295.3,510.3 1295.6,510.7 1295.9,510.9 1296.1,510.9 1296.4,510.8 1296.7,510.5 1296.9,510.1" stroke="#d0d000" stroke-width="2.3" fill="none" stroke-linejoin="round"/>
<path d="M357.4,291.4 358.3,292.1 359.6,293.1 361.1,294.2 362.7,295.4 364.3,296.3 365.6,296.8 366.7,297.1 367.6,297.2 368.4,297.2 369.3,296.8 370.2,296 371.4,294.6 372.8,292.4 374.4,289.6 376.1,286.3 377.8,282.8 379.5,279.4 381.1,276.3 382.6,273.5 384,270.8 385.4,268.1 386.8,265.6 388.2,263.2 389.7,261.2 391.3,259.5 393,258 394.7,256.7 396.4,255.6 398,254.6 399.4,253.6 400.6,252.7 401.7,252 402.7,251.4 403.7,250.8 404.7,250.2 405.9,249.3 407.2,248.2 408.6,247 410.1,245.7 411.6,244.3 413.1,243 414.5,241.8 415.8,240.6 417.1,239.3 418.3,238.1 419.5,237 420.8,236.2 422.1,235.9 423.5,236 424.9,236.4 426.3,237.1 427.8,238 429.3,239.2 430.7,240.7 432.1,242.6 433.6,244.9 435.1,247.6 436.5,250.2 437.9,252.7 439.3,254.7 440.6,256.4 441.9,258.1 443.2,259.6 444.4,260.7 445.7,261.5 446.9,261.8 448.1,261.6 449.4,261.1 450.6,260.2 451.8,258.8 453.1,257 454.4,254.7 455.8,251.7 457.2,248 458.7,243.8 460.2,239.4 461.6,235 463.1,231 464.6,227.1 466,223.1 467.5,219.2 468.9,215.5 470.3,212.2 471.7,209.4 473,207.2 474.2,205.5 475.4,204.1 476.6,203.1 477.8,202.4 479.2,201.9 480.7,201.8 482.4,202.2 484.1,202.9 485.8,203.8 487.4,204.6 488.9,205.1 490.2,205.5 491.4,205.8 492.5,206 493.5,206.2 494.5,206.3 495.4,206.4 496.3,206.4 497,206.2 497.7,206.1 498.4,205.8 499.1,205.5 499.9,205.2 500.7,204.8 501.5,204.3 502.3,203.8 503.1,203.2 503.9,202.7 504.8,202.3 505.7,202 506.6,201.6 507.5,201.4 508.5,201.2 509.4,201 510.2,201 511,201.1 511.8,201.2 512.5,201.5 513.2,201.8 513.9,202.2 514.6,202.7 515.3,203.3 515.9,204 516.6,204.8 517.2,205.6 517.9,206.6 518.5,207.6 519.2,208.8 519.9,210 520.6,211.4 521.2,212.8 521.9,214.2 522.5,215.5 523,216.7 523.5,217.8 524,218.9 524.5,220 524.9,221.2 525.4,222.4 525.9,223.7 526.4,225.1 526.8,226.6 527.3,228 527.8,229.6 528.3,231.2 528.8,232.9 529.3,234.7 529.8,236.5 530.3,238.3 530.8,240.2 531.3,242 531.7,243.8 532.1,245.5 532.5,247.3 532.9,249.1 533.3,250.9 533.7,252.7 534.1,254.6 534.5,256.6 534.9,258.5 535.3,260.5 535.7,262.5 536.2,264.5 536.8,266.5 537.4,268.7 538.1,270.8 538.7,272.9 539.4,274.7 540.1,276.3 540.8,277.6 541.4,278.6 542.1,279.4 542.8,280.1 543.4,280.7 544,281.2 544.5,281.7 545,282.1 545.5,282.4 546,282.6 546.5,282.7 547,282.6 547.6,282.4 548.2,282 548.8,281.5 549.5,280.8 550.2,280.1 550.9,279.2 551.7,278.2 552.5,277 553.3,275.7 554.1,274.3 555,272.9 555.8,271.4 556.6,269.9 557.4,268.3 558.2,266.6 559,264.9 559.8,263.2 560.7,261.6 561.7,259.9 562.7,258 563.7,256.1 564.8,254.4 565.9,253.2 567,252.6 568.1,252.7 569.2,253.3 570.3,254.4 571.4,255.7 572.6,257.3 573.9,259 575.3,261 576.7,263.5 578.2,266.2 579.7,268.8 581.2,271.2 582.6,273 583.9,274.3 585,275.4 586.2,276.2 587.3,276.7 588.6,276.9 590.1,276.9 591.8,276.5 593.8,275.6 595.8,274.5 598,273.2 600,272 602,270.9 603.8,270 605.6,269.2 607.3,268.4 609.1,267.5 610.9,266.6 612.8,265.5 614.9,264.2 617.1,262.6 619.4,260.9 621.6,259.2 623.8,257.9 625.7,256.9 627.4,256.4 629,256.1 630.4,256.2 631.7,256.3 633,256.6 634.3,256.9 635.5,257.3 636.6,257.8 637.7,258.4 638.7,259 639.7,259.6 640.8,260.1 641.9,260.5 643,261 644.1,261.4 645.1,261.7 646.2,261.9 647.3,261.8 648.4,261.5 649.4,260.9 650.5,260.2 651.6,259.4 652.6,258.6 653.7,257.9 654.8,257.3 655.8,256.6 656.8,255.9 657.9,255.3 659,254.9 660.2,254.7 661.5,254.6 663,254.6 664.5,254.8 666,255.2 667.5,255.9 668.8,256.9 670,258.5 671.1,260.6 672.2,263 673.2,265.5 674.2,267.8 675.3,269.8 676.4,271.6 677.5,273.4 678.6,275.2 679.8,276.5 681,277.3 682.2,277.4 683.5,276.7 684.8,275.2 686.2,273.3 687.6,270.9 689,268.3 690.4,265.5 691.8,262.3 693.3,258.5 694.7,254.4 696.2,250.4 697.6,246.8 699,243.9 700.3,241.7 701.6,239.8 702.9,238.3 704.1,237.3 705.4,236.6 706.6,236.4 707.9,236.7 709.1,237.5 710.4,238.7 711.6,240.3 712.9,242 714.1,243.9 715.3,245.9 716.5,248 717.7,250.4 718.9,253 720.2,255.9 721.5,259 722.9,262.5 724.3,266.3 725.7,270.3 727.2,274.5 728.7,278.7 730.1,282.8 731.5,287 733,291.3 734.4,295.7 735.8,299.9 737.3,304 738.7,307.6 740.1,310.8 741.6,313.6 743.1,316.3 744.5,318.7 746,321.2 747.4,323.7 748.8,326.2 750.3,328.6 751.7,331 753.1,333.5 754.6,336 756,338.8 757.4,341.8 758.9,344.9 760.4,348.2 761.8,351.6 763.2,354.9 764.6,358.2 766,361.6 767.3,365.1 768.6,368.6 769.9,372 771.1,375.1 772.2,377.7 773.2,379.9 774.1,381.9 775,383.6 775.8,385 776.7,385.9 777.6,386.3 778.6,386.3 779.7,385.9 780.7,385.1 781.8,383.8 782.9,382.1 784,379.8 785.1,376.9 786.2,373.5 787.2,369.6 788.3,365.3 789.4,360.8 790.5,356.1 791.6,351.2 792.7,345.9 793.8,340.3 794.8,334.7 795.9,329.1 797,323.7 798,318.5 799.1,313.4 800.1,308.3 801.1,303.3 802.2,298.4 803.4,293.5 804.7,288.6 806.1,283.5 807.6,278.6 809.1,273.8 810.6,269.4 812.1,265.5 813.6,262.1 815.1,259 816.7,256.3 818.2,254 819.5,252 820.7,250.4 821.6,249.2 822.4,248.4 823,247.9 823.6,247.8 824.2,247.9 825,248.2 825.9,248.6 826.9,249.2 828,250.1 829.1,251.3 830.3,252.8 831.5,254.7 832.8,257.2 834.2,260.4 835.6,263.9 837.1,267.6 838.6,271 840.1,274.1 841.6,277 843.2,280 844.8,282.8 846.4,285.2 847.9,287.1 849.2,288.1 850.3,288.3 851.3,287.9 852.2,286.8 853.1,285.3 854.1,283.2 855.2,280.6 856.5,277.4 857.9,273.4 859.3,268.9 860.8,264.2 862.3,259.4 863.8,254.7 865.2,250 866.6,245.1 868,240.1 869.4,235.2 870.9,230.7 872.5,226.7 874.3,223 876.3,219.5 878.3,216.4 880.4,213.7 882.4,211.7 884.3,210.5 886,210.2 887.7,210.8 889.3,212 890.9,213.7 892.5,215.8 894,218 895.5,220.6 897.1,223.7 898.6,227.1 900,230.7 901.4,234.2 902.7,237.5 903.9,240.5 905,243.3 906,246.1 907,248.9 908,251.7 909.1,254.7 910.3,257.9 911.4,261.4 912.7,264.9 913.9,268.3 915.2,271.4 916.5,274.1 917.9,276.5 919.3,278.7 920.7,280.6 922.2,282.2 923.7,283.3 925.1,283.8 926.5,283.6 927.9,282.9 929.3,281.6 930.7,280 932.1,278.2 933.7,276.3 935.4,274.1 937.2,271.6 939.1,268.8 941,266 942.8,263.4 944.5,261.2 946.1,259.4 947.5,257.9 948.9,256.6 950.3,255.5 951.7,254.5 953.1,253.6 954.5,252.8 955.9,252 957.3,251.3 958.7,250.9 960.2,250.7 961.8,250.8 963.5,251.3 965.3,252.2 967.1,253.3 969,254.5 970.8,255.8 972.6,256.9 974.3,258 976,259.4 977.7,260.7 979.3,261.8 980.8,262.6 982.3,262.9 983.7,262.7 984.9,262.3 986.1,261.5 987.3,260.3 988.5,258.8 989.8,256.9 991.2,254.3 992.6,251 994.1,247.3 995.6,243.5 997,240.2 998.4,237.5 999.7,235.5 1001,233.8 1002.3,232.5 1003.6,231.6 1004.8,230.9 1006,230.6 1007.1,230.5 1008.2,230.8 1009.3,231.3 1010.3,232.2 1011.4,233.5 1012.5,235.3 1013.7,237.7 1014.9,240.7 1016.2,244.1 1017.5,247.7 1018.7,251.3 1020,254.7 1021.3,258.1 1022.5,261.6 1023.8,265.1 1025.1,268.4 1026.3,271.5 1027.6,274.1 1028.8,276.2 1030,277.9 1031.2,279.3 1032.4,280.5 1033.7,281.6 1035.1,282.8 1036.6,283.9 1038.2,284.7 1039.9,285.5 1041.6,286.3 1043.3,287.5 1044.8,289.2 1046.2,291.4 1047.5,294 1048.8,296.9 1050,300 1051.2,303.2 1052.4,306.5 1053.5,309.8 1054.6,313.2 1055.7,316.7 1056.7,320.4 1057.7,324.1 1058.8,328 1059.9,332 1060.9,336.1 1061.9,340.4 1063,344.8 1064.1,349.3 1065.3,353.9 1066.6,358.8 1068.1,364.1 1069.6,369.5 1071.1,374.8 1072.6,379.8 1073.9,384.1 1075.1,387.9 1076.2,391.3 1077.3,394.4 1078.3,397.1 1079.4,399.4 1080.4,401.4 1081.4,403 1082.3,404.3 1083.2,405.2 1084.2,405.7 1085.2,405.9 1086.4,405.7 1087.7,405.1 1089.2,404.2 1090.8,402.8 1092.4,401.2 1094,399.3 1095.5,397.1 1096.9,394.5 1098.2,391.5 1099.6,388.3 1100.9,384.9 1102.2,381.6 1103.5,378.5 1104.8,375.7 1106.1,373.1 1107.5,370.6 1108.8,368.1 1110.1,365.5 1111.5,362.7 1112.9,359.8 1114.4,356.8 1115.9,353.7 1117.4,350.5 1118.8,347.4 1120.1,344.3 1121.3,341.2 1122.5,338.2 1123.6,335.1 1124.7,332 1125.7,329 1126.6,325.9 1127.4,322.9 1128.2,319.9 1128.9,316.9 1129.5,313.9 1130.2,310.8 1130.9,307.6 1131.6,304.3 1132.3,301 1133.1,297.6 1133.8,294.1 1134.5,290.6 1135.2,287.1 1135.9,283.5 1136.6,279.8 1137.3,276.1 1138.1,272.4 1138.8,268.9 1139.5,265.5 1140.2,262.3 1140.9,259.3 1141.7,256.3 1142.4,253.5 1143.1,250.8 1143.8,248.2 1144.5,245.7 1145.1,243.3 1145.7,241.1 1146.4,239 1147.2,237 1148.1,235.3 1149.2,233.7 1150.4,232.2 1151.7,230.9 1153.1,229.8 1154.4,229.1 1155.7,228.8 1157,229 1158.2,229.7 1159.5,230.8 1160.8,232 1162,233.2 1163.2,234.2 1164.3,235.2 1165.4,236.4 1166.5,237.5 1167.6,238.5 1168.6,239.3 1169.7,239.6 1170.8,239.5 1171.8,239.1 1172.8,238.5 1173.9,237.6 1175,236.5 1176.2,235.3 1177.5,233.8 1178.9,232 1180.4,230 1181.9,227.9 1183.4,226.1 1184.8,224.5 1186.1,223.1 1187.4,221.8 1188.7,220.6 1189.9,219.7 1191.2,219.2 1192.4,219.1 1193.7,219.5 1195,220.4 1196.3,221.6 1197.6,223.1 1198.8,224.8 1199.9,226.7 1200.9,228.8 1201.9,231.1 1202.7,233.7 1203.6,236.3 1204.4,239.1 1205.3,241.8 1206.2,244.5 1207.1,247.3 1207.9,250.1 1208.8,253 1209.7,256 1210.7,259 1211.7,262.2 1212.8,265.5 1213.9,268.8 1215,272.2 1216.1,275.4 1217.2,278.4 1218.3,281.3 1219.3,284.1 1220.3,286.8 1221.4,289.3 1222.5,291.6 1223.6,293.5 1224.8,295.1 1226,296.3 1227.3,297.3 1228.6,298.1 1229.9,298.6 1231.2,298.9 1232.4,298.9 1233.7,298.4 1234.9,297.8 1236.1,297 1237.4,296.3 1238.7,295.7 1240.1,295.2 1241.5,294.8 1243,294.3 1244.5,293.9 1245.9,293.6 1247.4,293.5 1248.9,293.6 1250.3,293.9 1251.8,294.4 1253.2,294.8 1254.6,295 1256,295 1257.4,294.6 1258.9,293.9 1260.3,293 1261.6,292.2 1262.7,291.4 1263.5,290.9" stroke="#00c8c8" stroke-width="2.2" fill="none" stroke-linejoin="round"/>
<path d="M332.4,272.2 333.9,272.2 335.4,271.9 336.9,271.8 338.4,272.6 339.9,273.3 341.4,272.3 342.9,271.6 344.4,272.4 345.9,274.6 347.4,274.8 348.9,272.7 350.4,271.6 351.9,271.5 353.4,271.1 354.9,271.2 356.4,271.3 357.9,271.6 359.4,271.1 360.9,271.4 362.4,271.4 363.9,271.6 365.4,271.6 366.9,271.5 368.4,271.3 369.9,270.8 371.4,270.3 372.9,270.8 374.4,270.7 375.9,271 377.4,271 378.9,270.7 380.4,270.9 381.9,270.3 383.4,270.4 384.9,270 386.4,270.7 387.9,271.2 389.4,271.3 390.9,271.2 392.4,270.7 393.9,270.9 395.4,270.5 396.9,270.2 398.4,269.7 399.9,269.9 401.4,270.6 402.9,270.9 404.4,270.6 405.9,270.5 407.4,270.4 408.9,270.4 410.4,270 411.9,269.8 413.4,269.7 414.9,269.2 416.4,269.3 417.9,269.2 419.4,269.7 420.9,269.4 422.4,268.9 423.9,268.6 425.4,269.5 426.9,270.2 428.4,269.4 429.9,268.2 431.4,268 432.9,268 434.4,267.9 435.9,268.3 437.4,268.3 438.9,268.4 440.4,268.3 441.9,268.6 443.4,268.4 444.9,268.1 446.4,267.9 447.9,267.8 449.4,267.3 450.9,267.1 452.4,267.2 453.9,267.5 455.4,267 456.9,266.7 458.4,266.3 459.9,266.3 461.4,266.5 462.9,266.7 464.4,266.8 465.9,266.5 467.4,266.2 468.9,265.9 470.4,265.6 471.9,265.2 473.4,265 474.9,265.3 476.4,266.7 477.9,267.7 479.4,265.8 480.9,264.1 482.4,264.1 483.9,264.1 485.4,263.9 486.9,263.7 488.4,263.4 489.9,263.8 491.4,263.6 492.9,263.9 494.4,263.4 495.9,263.2 497.4,262.7 498.9,262.9 500.4,262.9 501.9,262.5 503.4,262.1 504.9,261.9 506.4,261.9 507.9,261.6 509.4,261.8 510.9,261.6 512.4,261.4 513.9,261.1 515.4,261 516.9,261 518.4,260.9 519.9,260.8 521.4,260.8 522.9,260.7 524.4,260.5 525.9,260.2 527.4,259.8 528.9,259.6 530.4,259.7 531.9,259.4 533.4,259.1 534.9,259 536.4,259.8 537.9,261.9 539.4,262.1 540.9,260 542.4,259.1 543.9,258.9 545.4,258.7 546.9,258.3 548.4,258.2 549.9,258.3 551.4,258.3 552.9,258.2 554.4,259.1 555.9,260.4 557.4,258.8 558.9,257.7 560.4,257.8 561.9,258.3 563.4,259.7 564.9,260.3 566.4,259.9 567.9,259.4 569.4,259.1 570.9,257.9 572.4,258.3 573.9,259.1 575.4,258.3 576.9,257.6 578.4,257.4 579.9,257.6 581.4,257.5 582.9,257.1 584.4,257 585.9,256.7 587.4,256.9 588.9,257 590.4,257.3 591.9,257 593.4,256.9 594.9,256.9 596.4,257.1 597.9,256.8 599.4,256.6 600.9,256.3 602.4,256.6 603.9,256.4 605.4,256.7 606.9,256.5 608.4,256 609.9,256.2 611.4,256.9 612.9,256.4 614.4,256.1 615.9,255.9 617.4,255.7 618.9,255.6 620.4,255.3 621.9,254.9 623.4,255 624.9,254.7 626.4,255.2 627.9,254.8 629.4,255.2 630.9,254.6 632.4,254.5 633.9,254.1 635.4,254.1 636.9,253.7 638.4,254.1 639.9,254.3 641.4,254.5 642.9,254.1 644.4,253.9 645.9,253.5 647.4,253.4 648.9,253.5 650.4,253.5 651.9,253.6 653.4,253.3 654.9,253.1 656.4,252.9 657.9,252.9 659.4,254 660.9,255.5 662.4,255.7 663.9,253.8 665.4,252.9 666.9,252.2 668.4,252.2 669.9,252.3 671.4,252.3 672.9,252.1 674.4,252.1 675.9,252.1 677.4,251.9 678.9,251.9 680.4,251.8 681.9,251.9 683.4,251.9 684.9,252 686.4,251.7 687.9,251.3 689.4,251 690.9,251 692.4,250.6 693.9,250.7 695.4,250.7 696.9,251.1 698.4,250.5 699.9,250.7 701.4,250.3 702.9,250.5 704.4,249.8 705.9,249.8 707.4,249.7 708.9,249.9 710.4,249.9 711.9,249.9 713.4,250 714.9,249.7 716.4,249.4 717.9,249.1 719.4,249.3 720.9,249.7 722.4,249.9 723.9,249.5 725.4,250 726.9,251.4 728.4,251.8 729.9,250.5 731.4,250.5 732.9,251.1 734.4,250.7 735.9,250.1 737.4,250.5 738.9,250.6 740.4,250.5 741.9,250.4 743.4,250.6 744.9,250.7 746.4,250.5 747.9,249.9 749.4,250.3 750.9,250.3 752.4,250.5 753.9,251 755.4,252.2 756.9,251.8 758.4,251.2 759.9,251.4 761.4,251.1 762.9,250.9 764.4,251.1 765.9,252.5 767.4,253.9 768.9,253 770.4,251.7 771.9,251.7 773.4,251.7 774.9,252.4 776.4,252.5 777.9,253.8 779.4,254.4 780.9,253.5 782.4,252.1 783.9,252 785.4,252.1 786.9,252.4 788.4,252.7 789.9,252.7 791.4,252.8 792.9,252.6 794.4,252.3 795.9,251.9 797.4,251.9 798.9,252.5 800.4,252.7 801.9,252.8 803.4,252.4 804.9,252.9 806.4,252.9 807.9,252.9 809.4,252.4 810.9,252.6 812.4,252.8 813.9,252.6 815.4,253.1 816.9,254.1 818.4,253.4 819.9,252.4 821.4,252.5 822.9,253.4 824.4,254.3 825.9,253.2 827.4,252.2 828.9,252 830.4,251.7 831.9,251.6 833.4,251.3 834.9,251.5 836.4,251.1 837.9,251.2 839.4,251 840.9,251.5 842.4,251.2 843.9,250.9 845.4,250.3 846.9,250.1 848.4,250.2 849.9,250.3 851.4,250.5 852.9,250.9 854.4,250.5 855.9,252 857.4,253.2 858.9,252 860.4,249.6 861.9,250.3 863.4,251.5 864.9,250.1 866.4,250.1 867.9,251.2 869.4,250.2 870.9,248.9 872.4,249.1 873.9,249.1 875.4,248.9 876.9,248.5 878.4,248.3 879.9,248.2 881.4,248.4 882.9,248.3 884.4,247.8 885.9,247.7 887.4,247.4 888.9,247.8 890.4,248 891.9,249.1 893.4,249.6 894.9,248 896.4,247.3 897.9,247.4 899.4,247.7 900.9,247.6 902.4,247.5 903.9,247.2 905.4,246.8 906.9,246.1 908.4,245.8 909.9,245.9 911.4,246.4 912.9,246.7 914.4,246.6 915.9,246.5 917.4,246.5 918.9,246.2 920.4,246.1 921.9,245.5 923.4,245.7 924.9,245.7 926.4,246 927.9,246 929.4,246.1 930.9,245.9 932.4,246.6 933.9,246.8 935.4,247.1 936.9,247.1 938.4,245.8 939.9,244.8 941.4,244.5 942.9,244.9 944.4,244.4 945.9,244.6 947.4,244.7 948.9,244.5 950.4,243.9 951.9,243.5 953.4,243.7 954.9,243.9 956.4,243.7 957.9,243.6 959.4,243 960.9,242.9 962.4,242.5 963.9,243 965.4,243.6 966.9,244.3 968.4,243.4 969.9,242.5 971.4,242.6 972.9,243.3 974.4,244.3 975.9,243.2 977.4,242.7 978.9,242.7 980.4,242.8 981.9,242.7 983.4,242.5 984.9,242.4 986.4,242.3 987.9,242.5 989.4,243.1 990.9,243.8 992.4,242.9 993.9,242.4 995.4,242.3 996.9,242.1 998.4,241.6 999.9,241.8 1001.4,242.3 1002.9,243.1 1004.4,242.8 1005.9,242.9 1007.4,241.4 1008.9,240.8 1010.4,240.7 1011.9,240.7 1013.4,241.3 1014.9,242.3 1016.4,241.3 1017.9,240.5 1019.4,240.1 1020.9,240.5 1022.4,240.5 1023.9,240.1 1025.4,239.8 1026.9,239.9 1028.4,240.3 1029.9,240.5 1031.4,240.1 1032.9,239.8 1034.4,239.7 1035.9,239.9 1037.4,239.8 1038.9,239.6 1040.4,239.5 1041.9,239.2 1043.4,240.1 1044.9,240.9 1046.4,240.1 1047.9,239.3 1049.4,238.7 1050.9,239.1 1052.4,239.1 1053.9,239.2 1055.4,239.1 1056.9,238.8 1058.4,238.6 1059.9,238.2 1061.4,238.2 1062.9,239.1 1064.4,240.1 1065.9,239.4 1067.4,238.9 1068.9,239.1 1070.4,240.1 1071.9,240.7 1073.4,240.9 1074.9,241.4 1076.4,240.7 1077.9,239.3 1079.4,239.2 1080.9,239.6 1082.4,239.6 1083.9,239.8 1085.4,239.6 1086.9,240 1088.4,240.1 1089.9,240.1 1091.4,240.5 1092.9,240.9 1094.4,242.2 1095.9,243.6 1097.4,242.9 1098.9,241.3 1100.4,240.7 1101.9,241.5 1103.4,241.9 1104.9,243.4 1106.4,244.1 1107.9,243 1109.4,242.2 1110.9,242.3 1112.4,242.9 1113.9,242.9 1115.4,243.1 1116.9,242.9 1118.4,243.4 1119.9,243.9 1121.4,243.8 1122.9,243.6 1124.4,243.4 1125.9,243.7 1127.4,243.8 1128.9,243.6 1130.4,243.3 1131.9,243.4 1133.4,243.4 1134.9,244 1136.4,244 1137.9,244.1 1139.4,243.8 1140.9,244.4 1142.4,245.2 1143.9,244.9 1145.4,244.2 1146.9,243.9 1148.4,243.6 1149.9,243.8 1151.4,244.1 1152.9,244 1154.4,244.6 1155.9,245.4 1157.4,244.3 1158.9,243.5 1160.4,243.1 1161.9,242.9 1163.4,242.9 1164.9,243.1 1166.4,242.9 1167.9,242.4 1169.4,242.2 1170.9,242.7 1172.4,242.7 1173.9,243.8 1175.4,244.4 1176.9,243.7 1178.4,242.5 1179.9,243.8 1181.4,244.2 1182.9,243.3 1184.4,242.2 1185.9,241.9 1187.4,241.8 1188.9,241.6 1190.4,241.8 1191.9,241.4 1193.4,241 1194.9,240.7 1196.4,240.9 1197.9,241.5 1199.4,241.6 1200.9,240.5 1202.4,239.6 1203.9,239.9 1205.4,239.9 1206.9,240.1 1208.4,239.6 1209.9,239.1 1211.4,238.9 1212.9,239 1214.4,239.1 1215.9,238.8 1217.4,238.6 1218.9,239 1220.4,239.7 1221.9,238.7 1223.4,237.8 1224.9,238.9 1226.4,240.3 1227.9,239.6 1229.4,238.1 1230.9,238 1232.4,237.3 1233.9,236.9 1235.4,236.4 1236.9,236.7 1238.4,236.8 1239.9,237.3 1241.4,237.4 1242.9,237.5 1244.4,237.5 1245.9,237.2 1247.4,237.4 1248.9,238.1 1250.4,239.3 1251.9,237.7 1253.4,236.7 1254.9,236.3 1256.4,236.4 1257.9,236.3 1259.4,236.4 1260.9,236.4 1262.4,236.3 1263.9,236.4 1265.4,236.1 1266.9,236 1268.4,235.9 1269.9,236 1271.4,235.9 1272.9,235.4 1274.4,235.8 1275.9,235.6 1277.4,235.8 1278.9,235.7 1280.4,235.7 1281.9,235.7 1283.4,235.2 1284.9,235.1 1286.4,234.6 1287.9,234.7 1289.4,235 1290.9,235.3 1292.4,235.4 1293.9,235 1295.4,234.8 1296.9,234.7 1298.4,235.3 1299.9,235.7 1301.4,236.1 1302.9,236.2" stroke="#0000ff" stroke-width="4.3" fill="none" stroke-linejoin="round" stroke-linecap="round"/>
<path d="M332.6,702 372.7,702.1 372.8,702.9 503,703.2 503.1,703.5 575,703.6 575.1,704 658,704.1 658.1,704.5 750,704.6 750.1,704.9 868,705 868.1,705.4 1032,705.5 1032.1,705.9 1302.6,705.9" stroke="#ff0000" stroke-width="4.2" fill="none" stroke-linecap="round"/>
<path d="M325.3,746.6 326.7,738.3 328,741.1 330.8,750 332.8,756.2 334.2,762.4 336.3,782.3 337.6,780.9 341.1,724.6 343.1,724.6 345.9,785.7 347.9,784.3 351.4,731.5 354.1,756.9 356.2,759.6 358.9,743.1 362.4,747.3 365.8,748.6 369.2,766.5 370.6,763 374,741.8 376.1,745.2 379.5,776.1 382.3,763.7 386.4,706.8 388.4,715.7 393.2,797.4 395.3,793.9 397.4,741.8 400.1,732.8 401.5,737 403.5,735.6 404.9,728.7 406.3,728 411.1,776.1 413.1,773.3 418,734.2 422.8,784.3 426.9,718.4 431.7,789.1 436.5,735.6 439.2,735.6 441.3,741.1 444.7,743.1 449.5,756.9 453,750 455,754.1 457.8,791.9 459.8,789.1 464.6,713.6 468.1,737 470.8,734.2 475.6,789.1 481.1,721.2 483.8,771.3 485.9,767.9 488.6,717.1 493.5,787.1 498.9,728 501.7,754.8 503.7,748.6 506.5,712.3 508.5,726.7 512,791.2 514,793.2 514.6,767.8 516.5,747.4 517.7,749.3 519,763.9 520.9,759.5 522.2,741 524.8,705.9 526,710.4 530.5,776.7 532.4,780.5 533.7,770.3 537.5,714.9 538.8,719.3 543.2,784.3 543.9,793.9 548.3,723.8 550.3,727.6 553.4,751.2 555.4,753.7 559.8,769.7 561.7,768.4 566.2,732.1 570,759.5 574.5,705.3 576.4,719.3 578.9,780.5 581.5,778.6 584.7,760.1 586.6,763.9 591,741.6 593,742.3 594.2,746.1 596.8,724.4 599.1,720.6 603.8,793.9 608.3,716.1 610.8,728.2 613.4,758.2 616.5,725.1 618.4,729.5 622.9,798.3 626.1,749.9 628,744.8 631.2,765.2 636.3,712.9 639.5,756.3 641.4,763.9 644.6,755.6 647.8,774.8 652.2,734.6 656.7,783.7 660.5,748.6 663.1,745.4 665,760.7 668.8,716.1 670.1,716.1 673.3,772.9 675.2,767.8 678.4,714.2 682.8,800.3 686,732.1 688.6,735.9 691.1,781.1 696.2,714.9 699.4,756.3 702.6,741.6 704.5,746.1 707.6,769.7 710.8,734 712.1,733.3 717.2,778 722.3,741.6 725.5,766.5 726.8,763.3 730,710.4 731.9,713.6 735.1,785.6 737,784.3 740.2,731.4 745.3,797.1 749.7,704.7 754.8,777.3 759.3,738.4 763.7,771.6 767.6,728.9 768.8,731.4 772.7,773.5 777.1,741.6 780.3,757.6 784.8,728.2 789.9,767.1 793.1,755 796.9,753.7 799.4,723.8 802,721.9 804.5,761.4 806.4,769 811.5,779.2 815.4,720.6 817.9,710.4 820.5,733.3 824.3,749.9 829.4,781.1 830.7,782.4 833.8,772.9 836.4,761.4 840.2,704.7 845.3,776 847.2,777.3 849.8,753.7 854.9,727.6 856.2,730.8 859.3,766.5 861.9,776 863.8,770.9 869.5,730.8 870.8,734.6 875.9,788.2 881,718 882.3,716.8 884.2,720 887.4,734 891.8,792 895,778 896.9,738.4 898.8,727.6 900.7,732.1 903.3,756.9 906.5,751.2 910.3,770.3 911.6,766.5 916,707.8 919.2,739.7 922.4,758.8 926.2,795.8 927.5,790.7 932.6,733.3 935.8,725.1 939,734.6 940.9,735.9 942.2,733.3 944.7,738.4 948.5,792 953.6,739.1 957.5,767.8 961.9,736.5 963.6,734 967,756.3 968.3,757.6 971.5,744.8 974.7,756.3 976.6,753.7 979.8,719.3 984.2,797.1 988.1,756.9 992.5,785.6 997,711.7 1000.8,730.2 1002.1,723.8 1004.6,725.1 1007.2,762.7 1010.4,774.1 1013.5,792 1019.3,726.3 1021.8,730.8 1023.7,741.6 1026.3,742.3 1028.2,744.2 1031.4,763.3 1035.9,729.5 1040.3,779.2 1044.8,718.7 1049.2,775.4 1053.1,744.8 1056.9,765.8 1061.3,720.6 1066.4,786.9 1071.5,732.7 1074.7,762.7 1077.3,759.5 1079.8,733.3 1084.9,779.2 1089.4,742.3 1092,741.7 1094.6,737.7 1096.6,739.7 1101.3,762.2 1103.3,760.2 1105.9,745 1107.9,744.6 1109.9,747 1112.5,747.3 1115.2,771.5 1117.2,774.8 1121.8,723.1 1125.8,757.6 1127.1,759.6 1130.4,736.4 1131.7,738.4 1136.4,774.2 1139,770.2 1143,745.7 1147,756.3 1151,726.4 1155.6,756.3 1159.6,746.3 1164.9,802 1171.5,703.3 1175.5,743.7 1178.8,761.6 1183.4,757.6 1188.1,782.1 1192.7,727.1 1196.7,772.2 1198.7,762.2 1201.3,712.5 1204.6,743 1206.6,746.3 1208,739 1209.9,742.4 1213.9,780.8 1217.9,760.9 1221.9,754.3 1225.9,751.6 1230.5,719.2 1235.1,770.2 1239.1,745.7 1245.1,777.5 1251.7,729.8 1255,747 1259,728.4 1264.3,804 1268.9,717.8 1272.9,778.8 1277.5,713.9 1281.5,776.1 1285.5,731.7 1290.8,786.8 1295.4,733.7" stroke="#c0c0c0" stroke-width="2.3" fill="none" stroke-linejoin="round"/>
<path d="M211.7,427.4V585.5M204.5,427.4H218.9M204.5,585.5H218.9" stroke="#c0c0c0" stroke-width="2.2" fill="none"/>
<circle cx="211.7" cy="506.4" r="4.2" fill="#000"/>
<path d="M163.3,110.6L1459.2,110.6L1459.2,902.6L163.3,902.6Z" stroke="#000" stroke-width="2.3" fill="none" stroke-linejoin="miter"/>
<path d="M1345.9,110.6V506.5M1329.5,110.6H1362M1329.5,506.5H1362M1345.9,150.2H1353.9M1345.9,189.8H1353.9M1345.9,229.4H1353.9M1345.9,269H1353.9M1345.9,348.2H1353.9M1345.9,387.8H1353.9M1345.9,427.4H1353.9M1345.9,467H1353.9" stroke="#009696" stroke-opacity="0.585" stroke-width="2" fill="none"/>
<path d="M1135.1,638.8H1296.6M1135.1,631.6V645.9M1296.6,631.6V645.9" stroke="#c0c0c0" stroke-width="4.3" fill="none"/>
<g style="font-family:'Liberation Sans',Arial,Helvetica,sans-serif" fill="#000"><text transform="translate(163.3,946.3) scale(1,1.04)" text-anchor="middle" style="font-size:28px"><tspan dy="2.2">−</tspan><tspan dy="-2.2">10</tspan></text>
<text transform="translate(325.3,946.3) scale(1,1.04)" text-anchor="middle" style="font-size:28px">0</text>
<text transform="translate(487.3,946.3) scale(1,1.04)" text-anchor="middle" style="font-size:28px">10</text>
<text transform="translate(649.3,946.3) scale(1,1.04)" text-anchor="middle" style="font-size:28px">20</text>
<text transform="translate(811.2,946.3) scale(1,1.04)" text-anchor="middle" style="font-size:28px">30</text>
<text transform="translate(973.2,946.3) scale(1,1.04)" text-anchor="middle" style="font-size:28px">40</text>
<text transform="translate(1135.2,946.3) scale(1,1.04)" text-anchor="middle" style="font-size:28px">50</text>
<text transform="translate(1297.2,946.3) scale(1,1.04)" text-anchor="middle" style="font-size:28px">60</text>
<text transform="translate(1459.2,946.3) scale(1,1.04)" text-anchor="middle" style="font-size:28px">70</text>
<text transform="translate(140.3,912.8) scale(1,1.04)" text-anchor="end" style="font-size:28px"><tspan dy="2.2">−</tspan><tspan dy="-2.2">100</tspan></text>
<text transform="translate(140.3,833.6) scale(1,1.04)" text-anchor="end" style="font-size:28px"><tspan dy="2.2">−</tspan><tspan dy="-2.2">80</tspan></text>
<text transform="translate(140.3,754.4) scale(1,1.04)" text-anchor="end" style="font-size:28px"><tspan dy="2.2">−</tspan><tspan dy="-2.2">60</tspan></text>
<text transform="translate(140.3,675.2) scale(1,1.04)" text-anchor="end" style="font-size:28px"><tspan dy="2.2">−</tspan><tspan dy="-2.2">40</tspan></text>
<text transform="translate(140.3,596) scale(1,1.04)" text-anchor="end" style="font-size:28px"><tspan dy="2.2">−</tspan><tspan dy="-2.2">20</tspan></text>
<text transform="translate(140.3,516.8) scale(1,1.04)" text-anchor="end" style="font-size:28px">0</text>
<text transform="translate(140.3,437.6) scale(1,1.04)" text-anchor="end" style="font-size:28px">20</text>
<text transform="translate(140.3,358.4) scale(1,1.04)" text-anchor="end" style="font-size:28px">40</text>
<text transform="translate(140.3,279.2) scale(1,1.04)" text-anchor="end" style="font-size:28px">60</text>
<text transform="translate(140.3,200) scale(1,1.04)" text-anchor="end" style="font-size:28px">80</text>
<text transform="translate(140.3,120.8) scale(1,1.04)" text-anchor="end" style="font-size:28px">100</text>
<text transform="translate(1544.4,437.6) scale(1,1.04)" text-anchor="end" style="font-size:28px">1020</text>
<text transform="translate(1544.4,358.4) scale(1,1.04)" text-anchor="end" style="font-size:28px">1021</text>
<text transform="translate(1544.4,279.2) scale(1,1.04)" text-anchor="end" style="font-size:28px">1022</text>
<text transform="translate(1544.4,200) scale(1,1.04)" text-anchor="end" style="font-size:28px">1023</text>
<text transform="translate(1560.3,912.8) scale(1,1.04)" text-anchor="end" style="font-size:28px"><tspan dy="2.2">−</tspan><tspan dy="-2.2">1500</tspan></text>
<text transform="translate(1560.3,846.8) scale(1,1.04)" text-anchor="end" style="font-size:28px"><tspan dy="2.2">−</tspan><tspan dy="-2.2">1000</tspan></text>
<text transform="translate(1560.3,780.8) scale(1,1.04)" text-anchor="end" style="font-size:28px"><tspan dy="2.2">−</tspan><tspan dy="-2.2">500</tspan></text>
<text transform="translate(1560.3,714.8) scale(1,1.04)" text-anchor="end" style="font-size:28px">0</text>
<text transform="translate(1560.3,648.8) scale(1,1.04)" text-anchor="end" style="font-size:28px">500</text>
<text transform="translate(1560.3,582.8) scale(1,1.04)" text-anchor="end" style="font-size:28px">1000</text>
<text transform="translate(462.7,999.8) scale(1,1.04)" style="font-size:36.1px">Time [min] from 2023<tspan dy="2.9">−</tspan><tspan dy="-2.9">10</tspan><tspan dy="2.9">−</tspan><tspan dy="-2.9">08 06:00:00 UTC</tspan></text>
<text transform="translate(49.2,506.6) rotate(-90) scale(1,1.04)" text-anchor="middle" style="font-size:36px">Obs’d Gravity [nm/s<tspan font-size="25px" dy="-12">2</tspan><tspan dy="12">]</tspan></text>
<text transform="translate(1598.8,308.4) rotate(-90) scale(1,1.04)" text-anchor="middle" style="font-size:36px">Pressure [hPa]</text>
<text transform="translate(1615,704.4) rotate(-90) scale(1,1.04)" text-anchor="middle" style="font-size:36px">Tide [nm/s<tspan font-size="25px" dy="-12">2</tspan><tspan dy="12">]</tspan></text>
<text transform="translate(559.8,82.2) scale(1,1.04)" style="font-size:32.25px;font-weight:bold">SCG_054 gravimeter Onsala Space Observatory, Sweden</text>
<text transform="translate(191.2,887.8) scale(1,1.04)" style="font-size:27.9px;font-weight:bold">The latest 1<tspan dy="2.2">−</tspan><tspan dy="-2.2">hour, 1</tspan><tspan dy="2.2">−</tspan><tspan dy="-2.2">second sampling</tspan></text>
<text transform="translate(1430.3,887.8) scale(1,1.04)" text-anchor="end" style="font-size:27.8px;font-weight:bold">End at 2023<tspan dy="2.2">−</tspan><tspan dy="-2.2">10</tspan><tspan dy="2.2">−</tspan><tspan dy="-2.2">08 06:59:59 UTC</tspan></text>
<text transform="translate(1387,403) rotate(-90) scale(1,1.04)" style="font-size:24px">1 DIV = 0.5 hPa/h</text>
<text transform="translate(1427.6,403.2) rotate(-90) scale(1,1.04)" style="font-size:24px">average = 0.4566</text>
<text transform="translate(243.9,605.5) rotate(-90) scale(1,1.04)" style="font-size:24.2px">Typical noise level</text></g>
<g style="font-family:'Liberation Sans',Arial,Helvetica,sans-serif"><rect x="167" y="18.5" width="372.5" height="163" fill="#fff" stroke="#777" stroke-width="1"/><path d="M204,39.5H260" stroke="#0000ff" stroke-width="0.7"/><circle cx="232.3" cy="39.5" r="4.3" fill="#0000ff"/><path d="M204,69.5H260" stroke="#00c8c8" stroke-width="0.7"/><circle cx="232.3" cy="69.5" r="4.3" fill="#00c8c8"/><path d="M204,100.4H260" stroke="#000" stroke-width="2.5"/><path d="M204,130.6H260" stroke="#c0c0c0" stroke-width="2.5"/><path d="M204,161.5H260" stroke="#ff0000" stroke-width="0.7"/><circle cx="232.3" cy="161.5" r="4.3" fill="#ff0000"/><text transform="translate(279,48.1) scale(1,1.04)" style="font-size:24px">Pressure</text><text transform="translate(279,78.1) scale(1,1.04)" style="font-size:24px">dP/dt low<tspan dy="1.9">−</tspan><tspan dy="-1.9">passed</tspan></text><text transform="translate(279,109) scale(1,1.04)" style="font-size:24px">Residual</text><text transform="translate(279,139.2) scale(1,1.04)" style="font-size:24px">... last 10 min.</text><text transform="translate(279,170.1) scale(1,1.04)" style="font-size:24px">Theor.Tide</text></g></svg></body></html>
